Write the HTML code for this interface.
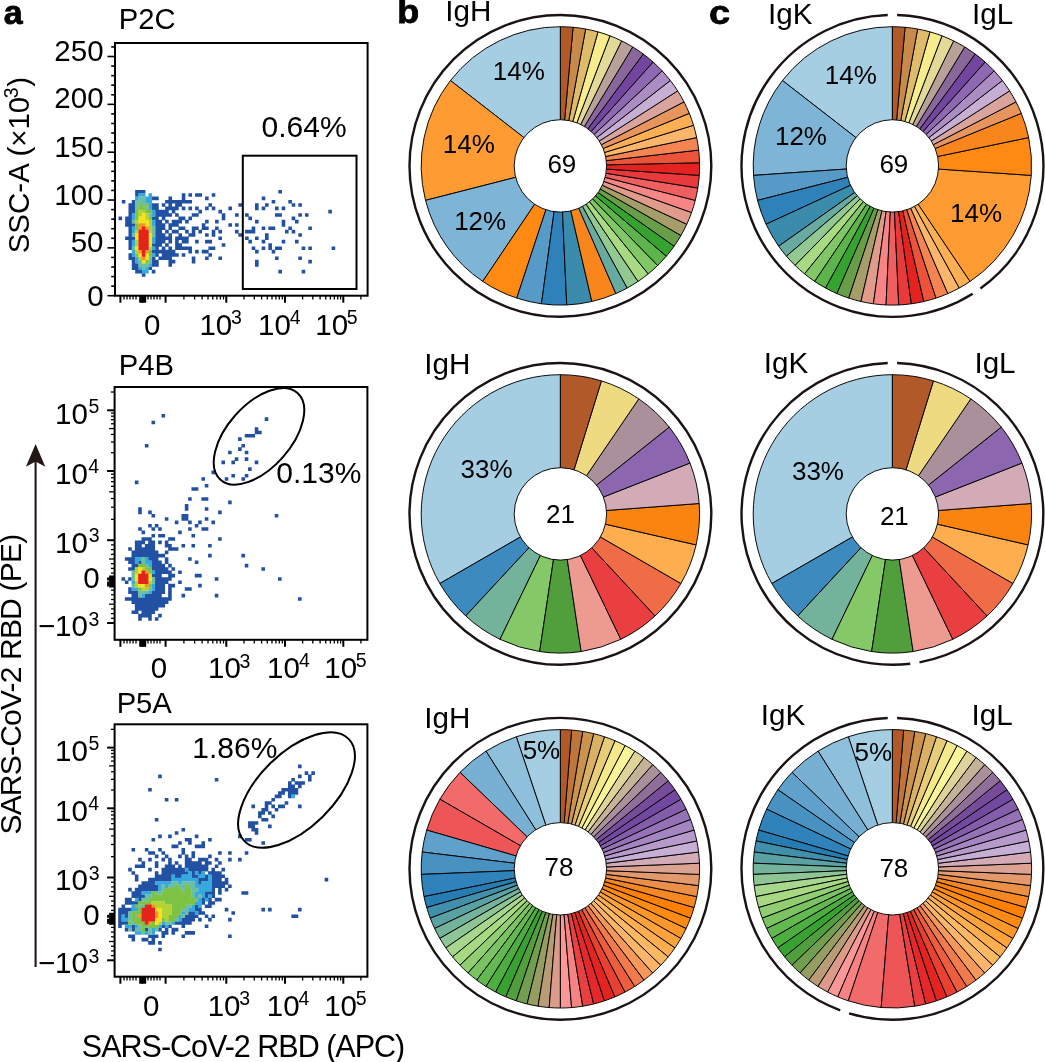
<!DOCTYPE html><html><head><meta charset="utf-8"><style>html,body{margin:0;padding:0;background:#fff;width:1045px;height:1062px;overflow:hidden}svg{display:block;will-change:transform}text{font-family:"Liberation Sans",sans-serif}</style></head><body><svg width="1045" height="1062" viewBox="0 0 1045 1062" font-family="Liberation Sans, sans-serif"><path d="M560.40,165.90L560.40,26.70A139.2,139.2 0 0 0 450.45,80.53Z" fill="#a6cee3" stroke="#000" stroke-width="0.95" stroke-linejoin="round"/>
<path d="M560.40,165.90L450.45,80.53A139.2,139.2 0 0 0 425.54,200.39Z" fill="#fe9c33" stroke="#000" stroke-width="0.95" stroke-linejoin="round"/>
<path d="M560.40,165.90L425.54,200.39A139.2,139.2 0 0 0 482.74,281.42Z" fill="#7eb4d5" stroke="#000" stroke-width="0.95" stroke-linejoin="round"/>
<path d="M560.40,165.90L482.74,281.42A139.2,139.2 0 0 0 516.78,298.09Z" fill="#ff8912" stroke="#000" stroke-width="0.95" stroke-linejoin="round"/>
<path d="M560.40,165.90L516.78,298.09A139.2,139.2 0 0 0 541.45,303.80Z" fill="#569bc7" stroke="#000" stroke-width="0.95" stroke-linejoin="round"/>
<path d="M560.40,165.90L541.45,303.80A139.2,139.2 0 0 0 566.74,304.96Z" fill="#2e81b9" stroke="#000" stroke-width="0.95" stroke-linejoin="round"/>
<path d="M560.40,165.90L566.74,304.96A139.2,139.2 0 0 0 591.82,301.51Z" fill="#3b8bac" stroke="#000" stroke-width="0.95" stroke-linejoin="round"/>
<path d="M560.40,165.90L591.82,301.51A139.2,139.2 0 0 0 615.86,293.58Z" fill="#f8861d" stroke="#000" stroke-width="0.95" stroke-linejoin="round"/>
<path d="M560.40,165.90L615.86,293.58A139.2,139.2 0 0 0 627.24,288.00Z" fill="#67aaa0" stroke="#000" stroke-width="0.95" stroke-linejoin="round"/>
<path d="M560.40,165.90L627.24,288.00A139.2,139.2 0 0 0 638.06,281.42Z" fill="#92c993" stroke="#000" stroke-width="0.95" stroke-linejoin="round"/>
<path d="M560.40,165.90L638.06,281.42A139.2,139.2 0 0 0 648.25,273.88Z" fill="#a8da82" stroke="#000" stroke-width="0.95" stroke-linejoin="round"/>
<path d="M560.40,165.90L648.25,273.88A139.2,139.2 0 0 0 657.70,265.44Z" fill="#82c766" stroke="#000" stroke-width="0.95" stroke-linejoin="round"/>
<path d="M560.40,165.90L657.70,265.44A139.2,139.2 0 0 0 666.35,256.18Z" fill="#5cb44a" stroke="#000" stroke-width="0.95" stroke-linejoin="round"/>
<path d="M560.40,165.90L666.35,256.18A139.2,139.2 0 0 0 674.12,246.17Z" fill="#36a22f" stroke="#000" stroke-width="0.95" stroke-linejoin="round"/>
<path d="M560.40,165.90L674.12,246.17A139.2,139.2 0 0 0 680.95,235.50Z" fill="#699e49" stroke="#000" stroke-width="0.95" stroke-linejoin="round"/>
<path d="M560.40,165.90L680.95,235.50A139.2,139.2 0 0 0 686.78,224.25Z" fill="#a59d6a" stroke="#000" stroke-width="0.95" stroke-linejoin="round"/>
<path d="M560.40,165.90L686.78,224.25A139.2,139.2 0 0 0 691.56,212.52Z" fill="#e09b8a" stroke="#000" stroke-width="0.95" stroke-linejoin="round"/>
<path d="M560.40,165.90L691.56,212.52A139.2,139.2 0 0 0 695.26,200.39Z" fill="#f78585" stroke="#000" stroke-width="0.95" stroke-linejoin="round"/>
<path d="M560.40,165.90L695.26,200.39A139.2,139.2 0 0 0 697.84,187.99Z" fill="#f05f60" stroke="#000" stroke-width="0.95" stroke-linejoin="round"/>
<path d="M560.40,165.90L697.84,187.99A139.2,139.2 0 0 0 699.28,175.40Z" fill="#e9393a" stroke="#000" stroke-width="0.95" stroke-linejoin="round"/>
<path d="M560.40,165.90L699.28,175.40A139.2,139.2 0 0 0 699.56,162.73Z" fill="#e42320" stroke="#000" stroke-width="0.95" stroke-linejoin="round"/>
<path d="M560.40,165.90L699.56,162.73A139.2,139.2 0 0 0 698.70,150.09Z" fill="#ec5439" stroke="#000" stroke-width="0.95" stroke-linejoin="round"/>
<path d="M560.40,165.90L698.70,150.09A139.2,139.2 0 0 0 696.69,137.58Z" fill="#f48552" stroke="#000" stroke-width="0.95" stroke-linejoin="round"/>
<path d="M560.40,165.90L696.69,137.58A139.2,139.2 0 0 0 693.55,125.30Z" fill="#fcb66b" stroke="#000" stroke-width="0.95" stroke-linejoin="round"/>
<path d="M560.40,165.90L693.55,125.30A139.2,139.2 0 0 0 689.31,113.36Z" fill="#fdaf54" stroke="#000" stroke-width="0.95" stroke-linejoin="round"/>
<path d="M560.40,165.90L689.31,113.36A139.2,139.2 0 0 0 683.99,101.86Z" fill="#e8955d" stroke="#000" stroke-width="0.95" stroke-linejoin="round"/>
<path d="M560.40,165.90L683.99,101.86A139.2,139.2 0 0 0 677.66,90.89Z" fill="#d8a49c" stroke="#000" stroke-width="0.95" stroke-linejoin="round"/>
<path d="M560.40,165.90L677.66,90.89A139.2,139.2 0 0 0 670.35,80.53Z" fill="#c7afd4" stroke="#000" stroke-width="0.95" stroke-linejoin="round"/>
<path d="M560.40,165.90L670.35,80.53A139.2,139.2 0 0 0 662.13,70.89Z" fill="#ab8cc3" stroke="#000" stroke-width="0.95" stroke-linejoin="round"/>
<path d="M560.40,165.90L662.13,70.89A139.2,139.2 0 0 0 653.07,62.03Z" fill="#8e69b1" stroke="#000" stroke-width="0.95" stroke-linejoin="round"/>
<path d="M560.40,165.90L653.07,62.03A139.2,139.2 0 0 0 643.24,54.03Z" fill="#72469f" stroke="#000" stroke-width="0.95" stroke-linejoin="round"/>
<path d="M560.40,165.90L643.24,54.03A139.2,139.2 0 0 0 632.73,46.96Z" fill="#8a679a" stroke="#000" stroke-width="0.95" stroke-linejoin="round"/>
<path d="M560.40,165.90L632.73,46.96A139.2,139.2 0 0 0 621.61,40.88Z" fill="#b7a199" stroke="#000" stroke-width="0.95" stroke-linejoin="round"/>
<path d="M560.40,165.90L621.61,40.88A139.2,139.2 0 0 0 609.99,35.83Z" fill="#e3da99" stroke="#000" stroke-width="0.95" stroke-linejoin="round"/>
<path d="M560.40,165.90L609.99,35.83A139.2,139.2 0 0 0 597.96,31.86Z" fill="#f7ed8d" stroke="#000" stroke-width="0.95" stroke-linejoin="round"/>
<path d="M560.40,165.90L597.96,31.86A139.2,139.2 0 0 0 585.61,29.00Z" fill="#dfbc6b" stroke="#000" stroke-width="0.95" stroke-linejoin="round"/>
<path d="M560.40,165.90L585.61,29.00A139.2,139.2 0 0 0 573.06,27.28Z" fill="#c88a4a" stroke="#000" stroke-width="0.95" stroke-linejoin="round"/>
<path d="M560.40,165.90L573.06,27.28A139.2,139.2 0 0 0 560.40,26.70Z" fill="#b15928" stroke="#000" stroke-width="0.95" stroke-linejoin="round"/>
<circle cx="560.4" cy="165.9" r="46.2" fill="#fff" stroke="#000" stroke-width="0.95"/>
<circle cx="560.4" cy="165.9" r="150.9" fill="none" stroke="#1a1311" stroke-width="2.4"/>
<path d="M892.40,165.90L892.40,26.70A139.2,139.2 0 0 0 782.45,80.53Z" fill="#a6cee3" stroke="#000" stroke-width="0.95" stroke-linejoin="round"/>
<path d="M892.40,165.90L782.45,80.53A139.2,139.2 0 0 0 753.52,175.40Z" fill="#7eb4d5" stroke="#000" stroke-width="0.95" stroke-linejoin="round"/>
<path d="M892.40,165.90L753.52,175.40A139.2,139.2 0 0 0 757.54,200.39Z" fill="#569bc7" stroke="#000" stroke-width="0.95" stroke-linejoin="round"/>
<path d="M892.40,165.90L757.54,200.39A139.2,139.2 0 0 0 766.02,224.25Z" fill="#2e81b9" stroke="#000" stroke-width="0.95" stroke-linejoin="round"/>
<path d="M892.40,165.90L766.02,224.25A139.2,139.2 0 0 0 778.68,246.17Z" fill="#3b8bac" stroke="#000" stroke-width="0.95" stroke-linejoin="round"/>
<path d="M892.40,165.90L778.68,246.17A139.2,139.2 0 0 0 786.45,256.18Z" fill="#67aaa0" stroke="#000" stroke-width="0.95" stroke-linejoin="round"/>
<path d="M892.40,165.90L786.45,256.18A139.2,139.2 0 0 0 795.10,265.44Z" fill="#92c993" stroke="#000" stroke-width="0.95" stroke-linejoin="round"/>
<path d="M892.40,165.90L795.10,265.44A139.2,139.2 0 0 0 804.55,273.88Z" fill="#a8da82" stroke="#000" stroke-width="0.95" stroke-linejoin="round"/>
<path d="M892.40,165.90L804.55,273.88A139.2,139.2 0 0 0 814.74,281.42Z" fill="#82c766" stroke="#000" stroke-width="0.95" stroke-linejoin="round"/>
<path d="M892.40,165.90L814.74,281.42A139.2,139.2 0 0 0 825.56,288.00Z" fill="#5cb44a" stroke="#000" stroke-width="0.95" stroke-linejoin="round"/>
<path d="M892.40,165.90L825.56,288.00A139.2,139.2 0 0 0 836.94,293.58Z" fill="#36a22f" stroke="#000" stroke-width="0.95" stroke-linejoin="round"/>
<path d="M892.40,165.90L836.94,293.58A139.2,139.2 0 0 0 848.78,298.09Z" fill="#699e49" stroke="#000" stroke-width="0.95" stroke-linejoin="round"/>
<path d="M892.40,165.90L848.78,298.09A139.2,139.2 0 0 0 860.98,301.51Z" fill="#a59d6a" stroke="#000" stroke-width="0.95" stroke-linejoin="round"/>
<path d="M892.40,165.90L860.98,301.51A139.2,139.2 0 0 0 873.45,303.80Z" fill="#e09b8a" stroke="#000" stroke-width="0.95" stroke-linejoin="round"/>
<path d="M892.40,165.90L873.45,303.80A139.2,139.2 0 0 0 886.06,304.96Z" fill="#f78585" stroke="#000" stroke-width="0.95" stroke-linejoin="round"/>
<path d="M892.40,165.90L886.06,304.96A139.2,139.2 0 0 0 898.74,304.96Z" fill="#f05f60" stroke="#000" stroke-width="0.95" stroke-linejoin="round"/>
<path d="M892.40,165.90L898.74,304.96A139.2,139.2 0 0 0 911.35,303.80Z" fill="#e9393a" stroke="#000" stroke-width="0.95" stroke-linejoin="round"/>
<path d="M892.40,165.90L911.35,303.80A139.2,139.2 0 0 0 923.82,301.51Z" fill="#e42320" stroke="#000" stroke-width="0.95" stroke-linejoin="round"/>
<path d="M892.40,165.90L923.82,301.51A139.2,139.2 0 0 0 936.02,298.09Z" fill="#ec5439" stroke="#000" stroke-width="0.95" stroke-linejoin="round"/>
<path d="M892.40,165.90L936.02,298.09A139.2,139.2 0 0 0 947.86,293.58Z" fill="#f48552" stroke="#000" stroke-width="0.95" stroke-linejoin="round"/>
<path d="M892.40,165.90L947.86,293.58A139.2,139.2 0 0 0 959.24,288.00Z" fill="#fcb66b" stroke="#000" stroke-width="0.95" stroke-linejoin="round"/>
<path d="M892.40,165.90L959.24,288.00A139.2,139.2 0 0 0 970.06,281.42Z" fill="#fdaf54" stroke="#000" stroke-width="0.95" stroke-linejoin="round"/>
<path d="M892.40,165.90L970.06,281.42A139.2,139.2 0 0 0 1031.28,175.40Z" fill="#fe9c33" stroke="#000" stroke-width="0.95" stroke-linejoin="round"/>
<path d="M892.40,165.90L1031.28,175.40A139.2,139.2 0 0 0 1028.69,137.58Z" fill="#ff8912" stroke="#000" stroke-width="0.95" stroke-linejoin="round"/>
<path d="M892.40,165.90L1028.69,137.58A139.2,139.2 0 0 0 1021.31,113.36Z" fill="#f8861d" stroke="#000" stroke-width="0.95" stroke-linejoin="round"/>
<path d="M892.40,165.90L1021.31,113.36A139.2,139.2 0 0 0 1015.99,101.86Z" fill="#e8955d" stroke="#000" stroke-width="0.95" stroke-linejoin="round"/>
<path d="M892.40,165.90L1015.99,101.86A139.2,139.2 0 0 0 1009.66,90.89Z" fill="#d8a49c" stroke="#000" stroke-width="0.95" stroke-linejoin="round"/>
<path d="M892.40,165.90L1009.66,90.89A139.2,139.2 0 0 0 1002.35,80.53Z" fill="#c7afd4" stroke="#000" stroke-width="0.95" stroke-linejoin="round"/>
<path d="M892.40,165.90L1002.35,80.53A139.2,139.2 0 0 0 994.13,70.89Z" fill="#ab8cc3" stroke="#000" stroke-width="0.95" stroke-linejoin="round"/>
<path d="M892.40,165.90L994.13,70.89A139.2,139.2 0 0 0 985.07,62.03Z" fill="#8e69b1" stroke="#000" stroke-width="0.95" stroke-linejoin="round"/>
<path d="M892.40,165.90L985.07,62.03A139.2,139.2 0 0 0 975.24,54.03Z" fill="#72469f" stroke="#000" stroke-width="0.95" stroke-linejoin="round"/>
<path d="M892.40,165.90L975.24,54.03A139.2,139.2 0 0 0 964.73,46.96Z" fill="#8a679a" stroke="#000" stroke-width="0.95" stroke-linejoin="round"/>
<path d="M892.40,165.90L964.73,46.96A139.2,139.2 0 0 0 953.61,40.88Z" fill="#b7a199" stroke="#000" stroke-width="0.95" stroke-linejoin="round"/>
<path d="M892.40,165.90L953.61,40.88A139.2,139.2 0 0 0 941.99,35.83Z" fill="#e3da99" stroke="#000" stroke-width="0.95" stroke-linejoin="round"/>
<path d="M892.40,165.90L941.99,35.83A139.2,139.2 0 0 0 929.96,31.86Z" fill="#f7ed8d" stroke="#000" stroke-width="0.95" stroke-linejoin="round"/>
<path d="M892.40,165.90L929.96,31.86A139.2,139.2 0 0 0 917.61,29.00Z" fill="#dfbc6b" stroke="#000" stroke-width="0.95" stroke-linejoin="round"/>
<path d="M892.40,165.90L917.61,29.00A139.2,139.2 0 0 0 905.06,27.28Z" fill="#c88a4a" stroke="#000" stroke-width="0.95" stroke-linejoin="round"/>
<path d="M892.40,165.90L905.06,27.28A139.2,139.2 0 0 0 892.40,26.70Z" fill="#b15928" stroke="#000" stroke-width="0.95" stroke-linejoin="round"/>
<circle cx="892.4" cy="165.9" r="46.2" fill="#fff" stroke="#000" stroke-width="0.95"/>
<path d="M887.74,15.07A150.9,150.9 0 1 0 972.68,293.67" fill="none" stroke="#1a1311" stroke-width="2.4"/>
<path d="M980.42,288.47A150.9,150.9 0 0 0 897.06,15.07" fill="none" stroke="#1a1311" stroke-width="2.4"/>
<path d="M560.40,513.90L560.40,374.70A139.2,139.2 0 0 0 439.85,583.50Z" fill="#a6cee3" stroke="#000" stroke-width="0.95" stroke-linejoin="round"/>
<path d="M560.40,513.90L439.85,583.50A139.2,139.2 0 0 0 465.72,615.94Z" fill="#3c8abe" stroke="#000" stroke-width="0.95" stroke-linejoin="round"/>
<path d="M560.40,513.90L465.72,615.94A139.2,139.2 0 0 0 500.00,639.31Z" fill="#73b39c" stroke="#000" stroke-width="0.95" stroke-linejoin="round"/>
<path d="M560.40,513.90L500.00,639.31A139.2,139.2 0 0 0 539.65,651.55Z" fill="#85c868" stroke="#000" stroke-width="0.95" stroke-linejoin="round"/>
<path d="M560.40,513.90L539.65,651.55A139.2,139.2 0 0 0 581.15,651.55Z" fill="#509f3c" stroke="#000" stroke-width="0.95" stroke-linejoin="round"/>
<path d="M560.40,513.90L581.15,651.55A139.2,139.2 0 0 0 620.80,639.31Z" fill="#ed9a91" stroke="#000" stroke-width="0.95" stroke-linejoin="round"/>
<path d="M560.40,513.90L620.80,639.31A139.2,139.2 0 0 0 655.08,615.94Z" fill="#ea3f40" stroke="#000" stroke-width="0.95" stroke-linejoin="round"/>
<path d="M560.40,513.90L655.08,615.94A139.2,139.2 0 0 0 680.95,583.50Z" fill="#f06c46" stroke="#000" stroke-width="0.95" stroke-linejoin="round"/>
<path d="M560.40,513.90L680.95,583.50A139.2,139.2 0 0 0 696.11,544.87Z" fill="#fead4f" stroke="#000" stroke-width="0.95" stroke-linejoin="round"/>
<path d="M560.40,513.90L696.11,544.87A139.2,139.2 0 0 0 699.21,503.50Z" fill="#fb830f" stroke="#000" stroke-width="0.95" stroke-linejoin="round"/>
<path d="M560.40,513.90L699.21,503.50A139.2,139.2 0 0 0 689.98,463.04Z" fill="#d2abb7" stroke="#000" stroke-width="0.95" stroke-linejoin="round"/>
<path d="M560.40,513.90L689.98,463.04A139.2,139.2 0 0 0 669.23,427.11Z" fill="#8c67af" stroke="#000" stroke-width="0.95" stroke-linejoin="round"/>
<path d="M560.40,513.90L669.23,427.11A139.2,139.2 0 0 0 638.81,398.89Z" fill="#aa909a" stroke="#000" stroke-width="0.95" stroke-linejoin="round"/>
<path d="M560.40,513.90L638.81,398.89A139.2,139.2 0 0 0 601.43,380.88Z" fill="#eedb81" stroke="#000" stroke-width="0.95" stroke-linejoin="round"/>
<path d="M560.40,513.90L601.43,380.88A139.2,139.2 0 0 0 560.40,374.70Z" fill="#b15928" stroke="#000" stroke-width="0.95" stroke-linejoin="round"/>
<circle cx="560.4" cy="513.9" r="46.2" fill="#fff" stroke="#000" stroke-width="0.95"/>
<circle cx="560.4" cy="513.9" r="150.9" fill="none" stroke="#1a1311" stroke-width="2.4"/>
<path d="M892.40,513.90L892.40,374.70A139.2,139.2 0 0 0 771.85,583.50Z" fill="#a6cee3" stroke="#000" stroke-width="0.95" stroke-linejoin="round"/>
<path d="M892.40,513.90L771.85,583.50A139.2,139.2 0 0 0 797.72,615.94Z" fill="#3c8abe" stroke="#000" stroke-width="0.95" stroke-linejoin="round"/>
<path d="M892.40,513.90L797.72,615.94A139.2,139.2 0 0 0 832.00,639.31Z" fill="#73b39c" stroke="#000" stroke-width="0.95" stroke-linejoin="round"/>
<path d="M892.40,513.90L832.00,639.31A139.2,139.2 0 0 0 871.65,651.55Z" fill="#85c868" stroke="#000" stroke-width="0.95" stroke-linejoin="round"/>
<path d="M892.40,513.90L871.65,651.55A139.2,139.2 0 0 0 913.15,651.55Z" fill="#509f3c" stroke="#000" stroke-width="0.95" stroke-linejoin="round"/>
<path d="M892.40,513.90L913.15,651.55A139.2,139.2 0 0 0 952.80,639.31Z" fill="#ed9a91" stroke="#000" stroke-width="0.95" stroke-linejoin="round"/>
<path d="M892.40,513.90L952.80,639.31A139.2,139.2 0 0 0 987.08,615.94Z" fill="#ea3f40" stroke="#000" stroke-width="0.95" stroke-linejoin="round"/>
<path d="M892.40,513.90L987.08,615.94A139.2,139.2 0 0 0 1012.95,583.50Z" fill="#f06c46" stroke="#000" stroke-width="0.95" stroke-linejoin="round"/>
<path d="M892.40,513.90L1012.95,583.50A139.2,139.2 0 0 0 1028.11,544.87Z" fill="#fead4f" stroke="#000" stroke-width="0.95" stroke-linejoin="round"/>
<path d="M892.40,513.90L1028.11,544.87A139.2,139.2 0 0 0 1031.21,503.50Z" fill="#fb830f" stroke="#000" stroke-width="0.95" stroke-linejoin="round"/>
<path d="M892.40,513.90L1031.21,503.50A139.2,139.2 0 0 0 1021.98,463.04Z" fill="#d2abb7" stroke="#000" stroke-width="0.95" stroke-linejoin="round"/>
<path d="M892.40,513.90L1021.98,463.04A139.2,139.2 0 0 0 1001.23,427.11Z" fill="#8c67af" stroke="#000" stroke-width="0.95" stroke-linejoin="round"/>
<path d="M892.40,513.90L1001.23,427.11A139.2,139.2 0 0 0 970.81,398.89Z" fill="#aa909a" stroke="#000" stroke-width="0.95" stroke-linejoin="round"/>
<path d="M892.40,513.90L970.81,398.89A139.2,139.2 0 0 0 933.43,380.88Z" fill="#eedb81" stroke="#000" stroke-width="0.95" stroke-linejoin="round"/>
<path d="M892.40,513.90L933.43,380.88A139.2,139.2 0 0 0 892.40,374.70Z" fill="#b15928" stroke="#000" stroke-width="0.95" stroke-linejoin="round"/>
<circle cx="892.4" cy="513.9" r="46.2" fill="#fff" stroke="#000" stroke-width="0.95"/>
<path d="M887.74,363.07A150.9,150.9 0 1 0 910.27,663.74" fill="none" stroke="#1a1311" stroke-width="2.4"/>
<path d="M919.49,662.35A150.9,150.9 0 0 0 897.06,363.07" fill="none" stroke="#1a1311" stroke-width="2.4"/>
<path d="M560.40,868.80L560.40,729.60A139.2,139.2 0 0 0 516.32,736.76Z" fill="#a6cee3" stroke="#000" stroke-width="0.95" stroke-linejoin="round"/>
<path d="M560.40,868.80L516.32,736.76A139.2,139.2 0 0 0 486.00,751.15Z" fill="#8ebfdb" stroke="#000" stroke-width="0.95" stroke-linejoin="round"/>
<path d="M560.40,868.80L486.00,751.15A139.2,139.2 0 0 0 460.01,772.37Z" fill="#77b0d3" stroke="#000" stroke-width="0.95" stroke-linejoin="round"/>
<path d="M560.40,868.80L460.01,772.37A139.2,139.2 0 0 0 439.85,799.20Z" fill="#f26b6b" stroke="#000" stroke-width="0.95" stroke-linejoin="round"/>
<path d="M560.40,868.80L439.85,799.20A139.2,139.2 0 0 0 426.70,830.07Z" fill="#ee5556" stroke="#000" stroke-width="0.95" stroke-linejoin="round"/>
<path d="M560.40,868.80L426.70,830.07A139.2,139.2 0 0 0 422.21,852.02Z" fill="#5fa1ca" stroke="#000" stroke-width="0.95" stroke-linejoin="round"/>
<path d="M560.40,868.80L422.21,852.02A139.2,139.2 0 0 0 421.31,874.41Z" fill="#4892c2" stroke="#000" stroke-width="0.95" stroke-linejoin="round"/>
<path d="M560.40,868.80L421.31,874.41A139.2,139.2 0 0 0 424.01,896.64Z" fill="#3083ba" stroke="#000" stroke-width="0.95" stroke-linejoin="round"/>
<path d="M560.40,868.80L424.01,896.64A139.2,139.2 0 0 0 426.70,907.53Z" fill="#267db2" stroke="#000" stroke-width="0.95" stroke-linejoin="round"/>
<path d="M560.40,868.80L426.70,907.53A139.2,139.2 0 0 0 430.25,918.16Z" fill="#408fab" stroke="#000" stroke-width="0.95" stroke-linejoin="round"/>
<path d="M560.40,868.80L430.25,918.16A139.2,139.2 0 0 0 434.64,928.47Z" fill="#59a1a3" stroke="#000" stroke-width="0.95" stroke-linejoin="round"/>
<path d="M560.40,868.80L434.64,928.47A139.2,139.2 0 0 0 439.85,938.40Z" fill="#73b39c" stroke="#000" stroke-width="0.95" stroke-linejoin="round"/>
<path d="M560.40,868.80L439.85,938.40A139.2,139.2 0 0 0 445.84,947.87Z" fill="#8dc595" stroke="#000" stroke-width="0.95" stroke-linejoin="round"/>
<path d="M560.40,868.80L445.84,947.87A139.2,139.2 0 0 0 452.57,956.84Z" fill="#a6d78d" stroke="#000" stroke-width="0.95" stroke-linejoin="round"/>
<path d="M560.40,868.80L452.57,956.84A139.2,139.2 0 0 0 460.01,965.23Z" fill="#a6d981" stroke="#000" stroke-width="0.95" stroke-linejoin="round"/>
<path d="M560.40,868.80L460.01,965.23A139.2,139.2 0 0 0 468.09,972.99Z" fill="#90ce71" stroke="#000" stroke-width="0.95" stroke-linejoin="round"/>
<path d="M560.40,868.80L468.09,972.99A139.2,139.2 0 0 0 476.78,980.08Z" fill="#7ac360" stroke="#000" stroke-width="0.95" stroke-linejoin="round"/>
<path d="M560.40,868.80L476.78,980.08A139.2,139.2 0 0 0 486.00,986.45Z" fill="#63b850" stroke="#000" stroke-width="0.95" stroke-linejoin="round"/>
<path d="M560.40,868.80L486.00,986.45A139.2,139.2 0 0 0 495.71,992.06Z" fill="#4dad3f" stroke="#000" stroke-width="0.95" stroke-linejoin="round"/>
<path d="M560.40,868.80L495.71,992.06A139.2,139.2 0 0 0 505.84,996.86Z" fill="#37a22f" stroke="#000" stroke-width="0.95" stroke-linejoin="round"/>
<path d="M560.40,868.80L505.84,996.86A139.2,139.2 0 0 0 516.32,1000.84Z" fill="#509f3c" stroke="#000" stroke-width="0.95" stroke-linejoin="round"/>
<path d="M560.40,868.80L516.32,1000.84A139.2,139.2 0 0 0 527.09,1003.96Z" fill="#729e4f" stroke="#000" stroke-width="0.95" stroke-linejoin="round"/>
<path d="M560.40,868.80L527.09,1003.96A139.2,139.2 0 0 0 538.07,1006.20Z" fill="#959d62" stroke="#000" stroke-width="0.95" stroke-linejoin="round"/>
<path d="M560.40,868.80L538.07,1006.20A139.2,139.2 0 0 0 549.20,1007.55Z" fill="#b89c75" stroke="#000" stroke-width="0.95" stroke-linejoin="round"/>
<path d="M560.40,868.80L549.20,1007.55A139.2,139.2 0 0 0 560.40,1008.00Z" fill="#db9b88" stroke="#000" stroke-width="0.95" stroke-linejoin="round"/>
<path d="M560.40,868.80L560.40,1008.00A139.2,139.2 0 0 0 571.60,1007.55Z" fill="#fb9897" stroke="#000" stroke-width="0.95" stroke-linejoin="round"/>
<path d="M560.40,868.80L571.60,1007.55A139.2,139.2 0 0 0 582.73,1006.20Z" fill="#f68281" stroke="#000" stroke-width="0.95" stroke-linejoin="round"/>
<path d="M560.40,868.80L582.73,1006.20A139.2,139.2 0 0 0 593.71,1003.96Z" fill="#ea3f40" stroke="#000" stroke-width="0.95" stroke-linejoin="round"/>
<path d="M560.40,868.80L593.71,1003.96A139.2,139.2 0 0 0 604.48,1000.84Z" fill="#e6282a" stroke="#000" stroke-width="0.95" stroke-linejoin="round"/>
<path d="M560.40,868.80L604.48,1000.84A139.2,139.2 0 0 0 614.96,996.86Z" fill="#e52421" stroke="#000" stroke-width="0.95" stroke-linejoin="round"/>
<path d="M560.40,868.80L614.96,996.86A139.2,139.2 0 0 0 625.09,992.06Z" fill="#e94130" stroke="#000" stroke-width="0.95" stroke-linejoin="round"/>
<path d="M560.40,868.80L625.09,992.06A139.2,139.2 0 0 0 634.80,986.45Z" fill="#ee5e3e" stroke="#000" stroke-width="0.95" stroke-linejoin="round"/>
<path d="M560.40,868.80L634.80,986.45A139.2,139.2 0 0 0 644.02,980.08Z" fill="#f27b4d" stroke="#000" stroke-width="0.95" stroke-linejoin="round"/>
<path d="M560.40,868.80L644.02,980.08A139.2,139.2 0 0 0 652.71,972.99Z" fill="#f7985b" stroke="#000" stroke-width="0.95" stroke-linejoin="round"/>
<path d="M560.40,868.80L652.71,972.99A139.2,139.2 0 0 0 660.79,965.23Z" fill="#fbb56a" stroke="#000" stroke-width="0.95" stroke-linejoin="round"/>
<path d="M560.40,868.80L660.79,965.23A139.2,139.2 0 0 0 668.23,956.84Z" fill="#fdb863" stroke="#000" stroke-width="0.95" stroke-linejoin="round"/>
<path d="M560.40,868.80L668.23,956.84A139.2,139.2 0 0 0 674.96,947.87Z" fill="#fead4f" stroke="#000" stroke-width="0.95" stroke-linejoin="round"/>
<path d="M560.40,868.80L674.96,947.87A139.2,139.2 0 0 0 680.95,938.40Z" fill="#fea23c" stroke="#000" stroke-width="0.95" stroke-linejoin="round"/>
<path d="M560.40,868.80L680.95,938.40A139.2,139.2 0 0 0 686.16,928.47Z" fill="#fe9629" stroke="#000" stroke-width="0.95" stroke-linejoin="round"/>
<path d="M560.40,868.80L686.16,928.47A139.2,139.2 0 0 0 690.55,918.16Z" fill="#ff8b15" stroke="#000" stroke-width="0.95" stroke-linejoin="round"/>
<path d="M560.40,868.80L690.55,918.16A139.2,139.2 0 0 0 694.10,907.53Z" fill="#ff8002" stroke="#000" stroke-width="0.95" stroke-linejoin="round"/>
<path d="M560.40,868.80L694.10,907.53A139.2,139.2 0 0 0 696.79,896.64Z" fill="#f78722" stroke="#000" stroke-width="0.95" stroke-linejoin="round"/>
<path d="M560.40,868.80L696.79,896.64A139.2,139.2 0 0 0 698.59,885.58Z" fill="#ed9047" stroke="#000" stroke-width="0.95" stroke-linejoin="round"/>
<path d="M560.40,868.80L698.59,885.58A139.2,139.2 0 0 0 699.49,874.41Z" fill="#e4996d" stroke="#000" stroke-width="0.95" stroke-linejoin="round"/>
<path d="M560.40,868.80L699.49,874.41A139.2,139.2 0 0 0 699.49,863.19Z" fill="#dba292" stroke="#000" stroke-width="0.95" stroke-linejoin="round"/>
<path d="M560.40,868.80L699.49,863.19A139.2,139.2 0 0 0 698.59,852.02Z" fill="#d2abb7" stroke="#000" stroke-width="0.95" stroke-linejoin="round"/>
<path d="M560.40,868.80L698.59,852.02A139.2,139.2 0 0 0 696.79,840.96Z" fill="#c7aed4" stroke="#000" stroke-width="0.95" stroke-linejoin="round"/>
<path d="M560.40,868.80L696.79,840.96A139.2,139.2 0 0 0 694.10,830.07Z" fill="#b69aca" stroke="#000" stroke-width="0.95" stroke-linejoin="round"/>
<path d="M560.40,868.80L694.10,830.07A139.2,139.2 0 0 0 690.55,819.44Z" fill="#a585bf" stroke="#000" stroke-width="0.95" stroke-linejoin="round"/>
<path d="M560.40,868.80L690.55,819.44A139.2,139.2 0 0 0 686.16,809.13Z" fill="#9571b5" stroke="#000" stroke-width="0.95" stroke-linejoin="round"/>
<path d="M560.40,868.80L686.16,809.13A139.2,139.2 0 0 0 680.95,799.20Z" fill="#845daa" stroke="#000" stroke-width="0.95" stroke-linejoin="round"/>
<path d="M560.40,868.80L680.95,799.20A139.2,139.2 0 0 0 674.96,789.73Z" fill="#7348a0" stroke="#000" stroke-width="0.95" stroke-linejoin="round"/>
<path d="M560.40,868.80L674.96,789.73A139.2,139.2 0 0 0 668.23,780.76Z" fill="#764c9a" stroke="#000" stroke-width="0.95" stroke-linejoin="round"/>
<path d="M560.40,868.80L668.23,780.76A139.2,139.2 0 0 0 660.79,772.37Z" fill="#906e9a" stroke="#000" stroke-width="0.95" stroke-linejoin="round"/>
<path d="M560.40,868.80L660.79,772.37A139.2,139.2 0 0 0 652.71,764.61Z" fill="#aa909a" stroke="#000" stroke-width="0.95" stroke-linejoin="round"/>
<path d="M560.40,868.80L652.71,764.61A139.2,139.2 0 0 0 644.02,757.52Z" fill="#c4b299" stroke="#000" stroke-width="0.95" stroke-linejoin="round"/>
<path d="M560.40,868.80L644.02,757.52A139.2,139.2 0 0 0 634.80,751.15Z" fill="#ded499" stroke="#000" stroke-width="0.95" stroke-linejoin="round"/>
<path d="M560.40,868.80L634.80,751.15A139.2,139.2 0 0 0 625.09,745.54Z" fill="#f8f699" stroke="#000" stroke-width="0.95" stroke-linejoin="round"/>
<path d="M560.40,868.80L625.09,745.54A139.2,139.2 0 0 0 614.96,740.74Z" fill="#f5ea8b" stroke="#000" stroke-width="0.95" stroke-linejoin="round"/>
<path d="M560.40,868.80L614.96,740.74A139.2,139.2 0 0 0 604.48,736.76Z" fill="#e7cd77" stroke="#000" stroke-width="0.95" stroke-linejoin="round"/>
<path d="M560.40,868.80L604.48,736.76A139.2,139.2 0 0 0 593.71,733.64Z" fill="#dab063" stroke="#000" stroke-width="0.95" stroke-linejoin="round"/>
<path d="M560.40,868.80L593.71,733.64A139.2,139.2 0 0 0 582.73,731.40Z" fill="#cc934f" stroke="#000" stroke-width="0.95" stroke-linejoin="round"/>
<path d="M560.40,868.80L582.73,731.40A139.2,139.2 0 0 0 571.60,730.05Z" fill="#bf763c" stroke="#000" stroke-width="0.95" stroke-linejoin="round"/>
<path d="M560.40,868.80L571.60,730.05A139.2,139.2 0 0 0 560.40,729.60Z" fill="#b15928" stroke="#000" stroke-width="0.95" stroke-linejoin="round"/>
<circle cx="560.4" cy="868.8" r="46.2" fill="#fff" stroke="#000" stroke-width="0.95"/>
<circle cx="560.4" cy="868.8" r="150.9" fill="none" stroke="#1a1311" stroke-width="2.4"/>
<path d="M892.40,868.80L892.40,729.60A139.2,139.2 0 0 0 848.32,736.76Z" fill="#a6cee3" stroke="#000" stroke-width="0.95" stroke-linejoin="round"/>
<path d="M892.40,868.80L848.32,736.76A139.2,139.2 0 0 0 818.00,751.15Z" fill="#8ebfdb" stroke="#000" stroke-width="0.95" stroke-linejoin="round"/>
<path d="M892.40,868.80L818.00,751.15A139.2,139.2 0 0 0 792.01,772.37Z" fill="#77b0d3" stroke="#000" stroke-width="0.95" stroke-linejoin="round"/>
<path d="M892.40,868.80L792.01,772.37A139.2,139.2 0 0 0 777.84,789.73Z" fill="#5fa1ca" stroke="#000" stroke-width="0.95" stroke-linejoin="round"/>
<path d="M892.40,868.80L777.84,789.73A139.2,139.2 0 0 0 766.64,809.13Z" fill="#4892c2" stroke="#000" stroke-width="0.95" stroke-linejoin="round"/>
<path d="M892.40,868.80L766.64,809.13A139.2,139.2 0 0 0 758.70,830.07Z" fill="#3083ba" stroke="#000" stroke-width="0.95" stroke-linejoin="round"/>
<path d="M892.40,868.80L758.70,830.07A139.2,139.2 0 0 0 756.01,840.96Z" fill="#267db2" stroke="#000" stroke-width="0.95" stroke-linejoin="round"/>
<path d="M892.40,868.80L756.01,840.96A139.2,139.2 0 0 0 754.21,852.02Z" fill="#408fab" stroke="#000" stroke-width="0.95" stroke-linejoin="round"/>
<path d="M892.40,868.80L754.21,852.02A139.2,139.2 0 0 0 753.31,863.19Z" fill="#59a1a3" stroke="#000" stroke-width="0.95" stroke-linejoin="round"/>
<path d="M892.40,868.80L753.31,863.19A139.2,139.2 0 0 0 753.31,874.41Z" fill="#73b39c" stroke="#000" stroke-width="0.95" stroke-linejoin="round"/>
<path d="M892.40,868.80L753.31,874.41A139.2,139.2 0 0 0 754.21,885.58Z" fill="#8dc595" stroke="#000" stroke-width="0.95" stroke-linejoin="round"/>
<path d="M892.40,868.80L754.21,885.58A139.2,139.2 0 0 0 756.01,896.64Z" fill="#a6d78d" stroke="#000" stroke-width="0.95" stroke-linejoin="round"/>
<path d="M892.40,868.80L756.01,896.64A139.2,139.2 0 0 0 758.70,907.53Z" fill="#a6d981" stroke="#000" stroke-width="0.95" stroke-linejoin="round"/>
<path d="M892.40,868.80L758.70,907.53A139.2,139.2 0 0 0 762.25,918.16Z" fill="#90ce71" stroke="#000" stroke-width="0.95" stroke-linejoin="round"/>
<path d="M892.40,868.80L762.25,918.16A139.2,139.2 0 0 0 766.64,928.47Z" fill="#7ac360" stroke="#000" stroke-width="0.95" stroke-linejoin="round"/>
<path d="M892.40,868.80L766.64,928.47A139.2,139.2 0 0 0 771.85,938.40Z" fill="#63b850" stroke="#000" stroke-width="0.95" stroke-linejoin="round"/>
<path d="M892.40,868.80L771.85,938.40A139.2,139.2 0 0 0 777.84,947.87Z" fill="#4dad3f" stroke="#000" stroke-width="0.95" stroke-linejoin="round"/>
<path d="M892.40,868.80L777.84,947.87A139.2,139.2 0 0 0 784.57,956.84Z" fill="#37a22f" stroke="#000" stroke-width="0.95" stroke-linejoin="round"/>
<path d="M892.40,868.80L784.57,956.84A139.2,139.2 0 0 0 792.01,965.23Z" fill="#509f3c" stroke="#000" stroke-width="0.95" stroke-linejoin="round"/>
<path d="M892.40,868.80L792.01,965.23A139.2,139.2 0 0 0 800.09,972.99Z" fill="#729e4f" stroke="#000" stroke-width="0.95" stroke-linejoin="round"/>
<path d="M892.40,868.80L800.09,972.99A139.2,139.2 0 0 0 808.78,980.08Z" fill="#959d62" stroke="#000" stroke-width="0.95" stroke-linejoin="round"/>
<path d="M892.40,868.80L808.78,980.08A139.2,139.2 0 0 0 818.00,986.45Z" fill="#b89c75" stroke="#000" stroke-width="0.95" stroke-linejoin="round"/>
<path d="M892.40,868.80L818.00,986.45A139.2,139.2 0 0 0 827.71,992.06Z" fill="#db9b88" stroke="#000" stroke-width="0.95" stroke-linejoin="round"/>
<path d="M892.40,868.80L827.71,992.06A139.2,139.2 0 0 0 837.84,996.86Z" fill="#fb9897" stroke="#000" stroke-width="0.95" stroke-linejoin="round"/>
<path d="M892.40,868.80L837.84,996.86A139.2,139.2 0 0 0 848.32,1000.84Z" fill="#f68281" stroke="#000" stroke-width="0.95" stroke-linejoin="round"/>
<path d="M892.40,868.80L848.32,1000.84A139.2,139.2 0 0 0 881.20,1007.55Z" fill="#f26b6b" stroke="#000" stroke-width="0.95" stroke-linejoin="round"/>
<path d="M892.40,868.80L881.20,1007.55A139.2,139.2 0 0 0 914.73,1006.20Z" fill="#ee5556" stroke="#000" stroke-width="0.95" stroke-linejoin="round"/>
<path d="M892.40,868.80L914.73,1006.20A139.2,139.2 0 0 0 925.71,1003.96Z" fill="#ea3f40" stroke="#000" stroke-width="0.95" stroke-linejoin="round"/>
<path d="M892.40,868.80L925.71,1003.96A139.2,139.2 0 0 0 936.48,1000.84Z" fill="#e6282a" stroke="#000" stroke-width="0.95" stroke-linejoin="round"/>
<path d="M892.40,868.80L936.48,1000.84A139.2,139.2 0 0 0 946.96,996.86Z" fill="#e52421" stroke="#000" stroke-width="0.95" stroke-linejoin="round"/>
<path d="M892.40,868.80L946.96,996.86A139.2,139.2 0 0 0 957.09,992.06Z" fill="#e94130" stroke="#000" stroke-width="0.95" stroke-linejoin="round"/>
<path d="M892.40,868.80L957.09,992.06A139.2,139.2 0 0 0 966.80,986.45Z" fill="#ee5e3e" stroke="#000" stroke-width="0.95" stroke-linejoin="round"/>
<path d="M892.40,868.80L966.80,986.45A139.2,139.2 0 0 0 976.02,980.08Z" fill="#f27b4d" stroke="#000" stroke-width="0.95" stroke-linejoin="round"/>
<path d="M892.40,868.80L976.02,980.08A139.2,139.2 0 0 0 984.71,972.99Z" fill="#f7985b" stroke="#000" stroke-width="0.95" stroke-linejoin="round"/>
<path d="M892.40,868.80L984.71,972.99A139.2,139.2 0 0 0 992.79,965.23Z" fill="#fbb56a" stroke="#000" stroke-width="0.95" stroke-linejoin="round"/>
<path d="M892.40,868.80L992.79,965.23A139.2,139.2 0 0 0 1000.23,956.84Z" fill="#fdb863" stroke="#000" stroke-width="0.95" stroke-linejoin="round"/>
<path d="M892.40,868.80L1000.23,956.84A139.2,139.2 0 0 0 1006.96,947.87Z" fill="#fead4f" stroke="#000" stroke-width="0.95" stroke-linejoin="round"/>
<path d="M892.40,868.80L1006.96,947.87A139.2,139.2 0 0 0 1012.95,938.40Z" fill="#fea23c" stroke="#000" stroke-width="0.95" stroke-linejoin="round"/>
<path d="M892.40,868.80L1012.95,938.40A139.2,139.2 0 0 0 1018.16,928.47Z" fill="#fe9629" stroke="#000" stroke-width="0.95" stroke-linejoin="round"/>
<path d="M892.40,868.80L1018.16,928.47A139.2,139.2 0 0 0 1022.55,918.16Z" fill="#ff8b15" stroke="#000" stroke-width="0.95" stroke-linejoin="round"/>
<path d="M892.40,868.80L1022.55,918.16A139.2,139.2 0 0 0 1026.10,907.53Z" fill="#ff8002" stroke="#000" stroke-width="0.95" stroke-linejoin="round"/>
<path d="M892.40,868.80L1026.10,907.53A139.2,139.2 0 0 0 1028.79,896.64Z" fill="#f78722" stroke="#000" stroke-width="0.95" stroke-linejoin="round"/>
<path d="M892.40,868.80L1028.79,896.64A139.2,139.2 0 0 0 1030.59,885.58Z" fill="#ed9047" stroke="#000" stroke-width="0.95" stroke-linejoin="round"/>
<path d="M892.40,868.80L1030.59,885.58A139.2,139.2 0 0 0 1031.49,874.41Z" fill="#e4996d" stroke="#000" stroke-width="0.95" stroke-linejoin="round"/>
<path d="M892.40,868.80L1031.49,874.41A139.2,139.2 0 0 0 1031.49,863.19Z" fill="#dba292" stroke="#000" stroke-width="0.95" stroke-linejoin="round"/>
<path d="M892.40,868.80L1031.49,863.19A139.2,139.2 0 0 0 1030.59,852.02Z" fill="#d2abb7" stroke="#000" stroke-width="0.95" stroke-linejoin="round"/>
<path d="M892.40,868.80L1030.59,852.02A139.2,139.2 0 0 0 1028.79,840.96Z" fill="#c7aed4" stroke="#000" stroke-width="0.95" stroke-linejoin="round"/>
<path d="M892.40,868.80L1028.79,840.96A139.2,139.2 0 0 0 1026.10,830.07Z" fill="#b69aca" stroke="#000" stroke-width="0.95" stroke-linejoin="round"/>
<path d="M892.40,868.80L1026.10,830.07A139.2,139.2 0 0 0 1022.55,819.44Z" fill="#a585bf" stroke="#000" stroke-width="0.95" stroke-linejoin="round"/>
<path d="M892.40,868.80L1022.55,819.44A139.2,139.2 0 0 0 1018.16,809.13Z" fill="#9571b5" stroke="#000" stroke-width="0.95" stroke-linejoin="round"/>
<path d="M892.40,868.80L1018.16,809.13A139.2,139.2 0 0 0 1012.95,799.20Z" fill="#845daa" stroke="#000" stroke-width="0.95" stroke-linejoin="round"/>
<path d="M892.40,868.80L1012.95,799.20A139.2,139.2 0 0 0 1006.96,789.73Z" fill="#7348a0" stroke="#000" stroke-width="0.95" stroke-linejoin="round"/>
<path d="M892.40,868.80L1006.96,789.73A139.2,139.2 0 0 0 1000.23,780.76Z" fill="#764c9a" stroke="#000" stroke-width="0.95" stroke-linejoin="round"/>
<path d="M892.40,868.80L1000.23,780.76A139.2,139.2 0 0 0 992.79,772.37Z" fill="#906e9a" stroke="#000" stroke-width="0.95" stroke-linejoin="round"/>
<path d="M892.40,868.80L992.79,772.37A139.2,139.2 0 0 0 984.71,764.61Z" fill="#aa909a" stroke="#000" stroke-width="0.95" stroke-linejoin="round"/>
<path d="M892.40,868.80L984.71,764.61A139.2,139.2 0 0 0 976.02,757.52Z" fill="#c4b299" stroke="#000" stroke-width="0.95" stroke-linejoin="round"/>
<path d="M892.40,868.80L976.02,757.52A139.2,139.2 0 0 0 966.80,751.15Z" fill="#ded499" stroke="#000" stroke-width="0.95" stroke-linejoin="round"/>
<path d="M892.40,868.80L966.80,751.15A139.2,139.2 0 0 0 957.09,745.54Z" fill="#f8f699" stroke="#000" stroke-width="0.95" stroke-linejoin="round"/>
<path d="M892.40,868.80L957.09,745.54A139.2,139.2 0 0 0 946.96,740.74Z" fill="#f5ea8b" stroke="#000" stroke-width="0.95" stroke-linejoin="round"/>
<path d="M892.40,868.80L946.96,740.74A139.2,139.2 0 0 0 936.48,736.76Z" fill="#e7cd77" stroke="#000" stroke-width="0.95" stroke-linejoin="round"/>
<path d="M892.40,868.80L936.48,736.76A139.2,139.2 0 0 0 925.71,733.64Z" fill="#dab063" stroke="#000" stroke-width="0.95" stroke-linejoin="round"/>
<path d="M892.40,868.80L925.71,733.64A139.2,139.2 0 0 0 914.73,731.40Z" fill="#cc934f" stroke="#000" stroke-width="0.95" stroke-linejoin="round"/>
<path d="M892.40,868.80L914.73,731.40A139.2,139.2 0 0 0 903.60,730.05Z" fill="#bf763c" stroke="#000" stroke-width="0.95" stroke-linejoin="round"/>
<path d="M892.40,868.80L903.60,730.05A139.2,139.2 0 0 0 892.40,729.60Z" fill="#b15928" stroke="#000" stroke-width="0.95" stroke-linejoin="round"/>
<circle cx="892.4" cy="868.8" r="46.2" fill="#fff" stroke="#000" stroke-width="0.95"/>
<path d="M887.74,717.97A150.9,150.9 0 0 0 840.22,1010.39" fill="none" stroke="#1a1311" stroke-width="2.4"/>
<path d="M849.06,1013.34A150.9,150.9 0 1 0 897.06,717.97" fill="none" stroke="#1a1311" stroke-width="2.4"/>
<rect x="115" y="43" width="252.60" height="252.70" fill="none" stroke="#000" stroke-width="2"/>
<path fill="#2251a3" d="M135.15 189.89h10.26v3.60h-10.26zM278.34 189.89h3.60v3.60h-3.60zM135.15 193.22h3.60v3.60h-3.60zM181.76 193.22h3.60v3.60h-3.60zM188.43 193.22h3.60v3.60h-3.60zM195.09 193.22h6.93v3.60h-6.93zM211.74 193.22h3.60v3.60h-3.60zM151.80 196.55h6.93v3.60h-6.93zM168.44 196.55h3.60v3.60h-3.60zM181.76 196.55h3.60v3.60h-3.60zM205.07 196.55h3.60v3.60h-3.60zM261.69 196.55h3.60v3.60h-3.60zM121.82 199.88h3.60v3.60h-3.60zM131.81 199.88h3.60v3.60h-3.60zM165.12 199.88h26.91v3.60h-26.91zM271.68 199.88h3.60v3.60h-3.60zM288.32 199.88h3.60v3.60h-3.60zM128.49 203.21h6.93v3.60h-6.93zM151.80 203.21h6.93v3.60h-6.93zM161.79 203.21h3.60v3.60h-3.60zM168.44 203.21h3.60v3.60h-3.60zM175.11 203.21h6.93v3.60h-6.93zM208.41 203.21h3.60v3.60h-3.60zM238.38 203.21h3.60v3.60h-3.60zM255.03 203.21h3.60v3.60h-3.60zM265.01 203.21h3.60v3.60h-3.60zM291.66 203.21h3.60v3.60h-3.60zM298.31 203.21h3.60v3.60h-3.60zM128.49 206.54h6.93v3.60h-6.93zM151.80 206.54h6.93v3.60h-6.93zM165.12 206.54h13.59v3.60h-13.59zM181.76 206.54h3.60v3.60h-3.60zM188.43 206.54h3.60v3.60h-3.60zM195.09 206.54h3.60v3.60h-3.60zM205.07 206.54h3.60v3.60h-3.60zM211.74 206.54h3.60v3.60h-3.60zM228.38 206.54h3.60v3.60h-3.60zM255.03 206.54h3.60v3.60h-3.60zM261.69 206.54h3.60v3.60h-3.60zM275.00 206.54h3.60v3.60h-3.60zM281.67 206.54h3.60v3.60h-3.60zM128.49 209.87h6.93v3.60h-6.93zM155.12 209.87h13.59v3.60h-13.59zM171.78 209.87h3.60v3.60h-3.60zM198.42 209.87h3.60v3.60h-3.60zM218.40 209.87h3.60v3.60h-3.60zM328.29 209.87h3.60v3.60h-3.60zM128.49 213.20h3.60v3.60h-3.60zM155.12 213.20h16.92v3.60h-16.92zM175.11 213.20h3.60v3.60h-3.60zM191.75 213.20h6.93v3.60h-6.93zM221.73 213.20h3.60v3.60h-3.60zM235.05 213.20h3.60v3.60h-3.60zM245.04 213.20h3.60v3.60h-3.60zM275.00 213.20h6.93v3.60h-6.93zM298.31 213.20h3.60v3.60h-3.60zM304.98 213.20h3.60v3.60h-3.60zM118.49 216.53h3.60v3.60h-3.60zM125.15 216.53h6.93v3.60h-6.93zM151.80 216.53h6.93v3.60h-6.93zM161.79 216.53h3.60v3.60h-3.60zM178.44 216.53h6.93v3.60h-6.93zM188.43 216.53h3.60v3.60h-3.60zM221.73 216.53h3.60v3.60h-3.60zM248.37 216.53h3.60v3.60h-3.60zM291.66 216.53h3.60v3.60h-3.60zM125.15 219.86h6.93v3.60h-6.93zM155.12 219.86h6.93v3.60h-6.93zM165.12 219.86h3.60v3.60h-3.60zM171.78 219.86h10.26v3.60h-10.26zM185.10 219.86h3.60v3.60h-3.60zM205.07 219.86h3.60v3.60h-3.60zM215.06 219.86h3.60v3.60h-3.60zM255.03 219.86h3.60v3.60h-3.60zM281.67 219.86h3.60v3.60h-3.60zM294.99 219.86h3.60v3.60h-3.60zM125.15 223.19h10.26v3.60h-10.26zM155.12 223.19h10.26v3.60h-10.26zM168.44 223.19h10.26v3.60h-10.26zM201.75 223.19h3.60v3.60h-3.60zM228.38 223.19h3.60v3.60h-3.60zM235.05 223.19h3.60v3.60h-3.60zM281.67 223.19h3.60v3.60h-3.60zM128.49 226.52h3.60v3.60h-3.60zM155.12 226.52h10.26v3.60h-10.26zM168.44 226.52h3.60v3.60h-3.60zM178.44 226.52h6.93v3.60h-6.93zM191.75 226.52h6.93v3.60h-6.93zM201.75 226.52h6.93v3.60h-6.93zM215.06 226.52h3.60v3.60h-3.60zM251.69 226.52h3.60v3.60h-3.60zM261.69 226.52h3.60v3.60h-3.60zM268.35 226.52h6.93v3.60h-6.93zM288.32 226.52h3.60v3.60h-3.60zM308.31 226.52h3.60v3.60h-3.60zM128.49 229.85h3.60v3.60h-3.60zM155.12 229.85h6.93v3.60h-6.93zM165.12 229.85h3.60v3.60h-3.60zM171.78 229.85h6.93v3.60h-6.93zM185.10 229.85h3.60v3.60h-3.60zM191.75 229.85h3.60v3.60h-3.60zM198.42 229.85h3.60v3.60h-3.60zM211.74 229.85h3.60v3.60h-3.60zM218.40 229.85h3.60v3.60h-3.60zM235.05 229.85h3.60v3.60h-3.60zM245.04 229.85h10.26v3.60h-10.26zM285.00 229.85h3.60v3.60h-3.60zM291.66 229.85h3.60v3.60h-3.60zM128.49 233.18h3.60v3.60h-3.60zM155.12 233.18h10.26v3.60h-10.26zM168.44 233.18h3.60v3.60h-3.60zM178.44 233.18h3.60v3.60h-3.60zM188.43 233.18h6.93v3.60h-6.93zM205.07 233.18h3.60v3.60h-3.60zM211.74 233.18h3.60v3.60h-3.60zM238.38 233.18h3.60v3.60h-3.60zM265.01 233.18h3.60v3.60h-3.60zM298.31 233.18h3.60v3.60h-3.60zM125.15 236.51h10.26v3.60h-10.26zM155.12 236.51h16.92v3.60h-16.92zM175.11 236.51h13.59v3.60h-13.59zM218.40 236.51h3.60v3.60h-3.60zM245.04 236.51h3.60v3.60h-3.60zM255.03 236.51h3.60v3.60h-3.60zM265.01 236.51h3.60v3.60h-3.60zM128.49 239.84h3.60v3.60h-3.60zM155.12 239.84h10.26v3.60h-10.26zM168.44 239.84h3.60v3.60h-3.60zM175.11 239.84h3.60v3.60h-3.60zM181.76 239.84h6.93v3.60h-6.93zM195.09 239.84h3.60v3.60h-3.60zM205.07 239.84h6.93v3.60h-6.93zM248.37 239.84h3.60v3.60h-3.60zM261.69 239.84h3.60v3.60h-3.60zM281.67 239.84h3.60v3.60h-3.60zM294.99 239.84h3.60v3.60h-3.60zM128.49 243.17h3.60v3.60h-3.60zM151.80 243.17h10.26v3.60h-10.26zM165.12 243.17h3.60v3.60h-3.60zM175.11 243.17h6.93v3.60h-6.93zM221.73 243.17h3.60v3.60h-3.60zM268.35 243.17h3.60v3.60h-3.60zM128.49 246.50h3.60v3.60h-3.60zM155.12 246.50h3.60v3.60h-3.60zM161.79 246.50h3.60v3.60h-3.60zM168.44 246.50h3.60v3.60h-3.60zM175.11 246.50h16.92v3.60h-16.92zM208.41 246.50h6.93v3.60h-6.93zM251.69 246.50h3.60v3.60h-3.60zM261.69 246.50h3.60v3.60h-3.60zM268.35 246.50h3.60v3.60h-3.60zM275.00 246.50h6.93v3.60h-6.93zM301.65 246.50h3.60v3.60h-3.60zM308.31 246.50h3.60v3.60h-3.60zM331.62 246.50h3.60v3.60h-3.60zM151.80 249.83h23.58v3.60h-23.58zM188.43 249.83h3.60v3.60h-3.60zM195.09 249.83h3.60v3.60h-3.60zM201.75 249.83h6.93v3.60h-6.93zM255.03 249.83h3.60v3.60h-3.60zM271.68 249.83h3.60v3.60h-3.60zM128.49 253.16h3.60v3.60h-3.60zM155.12 253.16h3.60v3.60h-3.60zM161.79 253.16h16.92v3.60h-16.92zM181.76 253.16h3.60v3.60h-3.60zM208.41 253.16h3.60v3.60h-3.60zM128.49 256.49h6.93v3.60h-6.93zM151.80 256.49h3.60v3.60h-3.60zM158.46 256.49h13.59v3.60h-13.59zM191.75 256.49h3.60v3.60h-3.60zM205.07 256.49h3.60v3.60h-3.60zM218.40 256.49h3.60v3.60h-3.60zM275.00 256.49h3.60v3.60h-3.60zM298.31 256.49h3.60v3.60h-3.60zM131.81 259.82h3.60v3.60h-3.60zM151.80 259.82h6.93v3.60h-6.93zM168.44 259.82h6.93v3.60h-6.93zM191.75 259.82h3.60v3.60h-3.60zM255.03 259.82h3.60v3.60h-3.60zM308.31 259.82h3.60v3.60h-3.60zM131.81 263.14h6.93v3.60h-6.93zM151.80 263.14h6.93v3.60h-6.93zM168.44 263.14h3.60v3.60h-3.60zM255.03 263.14h3.60v3.60h-3.60zM131.81 266.48h6.93v3.60h-6.93zM148.47 266.48h3.60v3.60h-3.60zM135.15 269.81h6.93v3.60h-6.93zM151.80 269.81h3.60v3.60h-3.60zM278.34 269.81h3.60v3.60h-3.60zM301.65 269.81h3.60v3.60h-3.60zM141.81 273.13h3.60v3.60h-3.60z"/>
<path fill="#36a8e0" d="M138.48 193.22h6.93v3.60h-6.93zM148.47 193.22h3.60v3.60h-3.60zM135.15 196.55h3.60v3.60h-3.60zM145.13 196.55h6.93v3.60h-6.93zM145.13 199.88h6.93v3.60h-6.93zM148.47 203.21h3.60v3.60h-3.60zM148.47 206.54h3.60v3.60h-3.60zM151.80 209.87h3.60v3.60h-3.60zM131.81 213.20h3.60v3.60h-3.60zM151.80 213.20h3.60v3.60h-3.60zM131.81 216.53h3.60v3.60h-3.60zM151.80 219.86h3.60v3.60h-3.60zM151.80 223.19h3.60v3.60h-3.60zM131.81 226.52h3.60v3.60h-3.60zM131.81 229.85h3.60v3.60h-3.60zM151.80 236.51h3.60v3.60h-3.60zM131.81 239.84h3.60v3.60h-3.60zM151.80 239.84h3.60v3.60h-3.60zM131.81 243.17h3.60v3.60h-3.60zM151.80 246.50h3.60v3.60h-3.60zM131.81 249.83h3.60v3.60h-3.60zM131.81 253.16h3.60v3.60h-3.60zM151.80 253.16h3.60v3.60h-3.60zM135.15 256.49h3.60v3.60h-3.60zM135.15 259.82h3.60v3.60h-3.60zM148.47 263.14h3.60v3.60h-3.60zM138.48 266.48h3.60v3.60h-3.60zM145.13 266.48h3.60v3.60h-3.60zM141.81 269.81h6.93v3.60h-6.93z"/>
<path fill="#6bbfa5" d="M138.48 196.55h6.93v3.60h-6.93zM135.15 199.88h10.26v3.60h-10.26zM135.15 203.21h3.60v3.60h-3.60zM141.81 203.21h3.60v3.60h-3.60zM135.15 206.54h3.60v3.60h-3.60zM145.13 206.54h3.60v3.60h-3.60zM148.47 213.20h3.60v3.60h-3.60zM131.81 219.86h3.60v3.60h-3.60zM151.80 226.52h3.60v3.60h-3.60zM151.80 229.85h3.60v3.60h-3.60zM131.81 233.18h3.60v3.60h-3.60zM151.80 233.18h3.60v3.60h-3.60zM131.81 246.50h3.60v3.60h-3.60zM148.47 256.49h3.60v3.60h-3.60zM138.48 259.82h3.60v3.60h-3.60zM148.47 259.82h3.60v3.60h-3.60zM138.48 263.14h10.26v3.60h-10.26zM141.81 266.48h3.60v3.60h-3.60z"/>
<path fill="#7dc243" d="M138.48 203.21h3.60v3.60h-3.60zM145.13 203.21h3.60v3.60h-3.60zM138.48 206.54h6.93v3.60h-6.93zM135.15 209.87h3.60v3.60h-3.60zM145.13 209.87h6.93v3.60h-6.93zM135.15 213.20h3.60v3.60h-3.60zM135.15 216.53h3.60v3.60h-3.60zM148.47 216.53h3.60v3.60h-3.60zM135.15 223.19h3.60v3.60h-3.60zM135.15 226.52h3.60v3.60h-3.60zM148.47 249.83h3.60v3.60h-3.60zM135.15 253.16h3.60v3.60h-3.60zM148.47 253.16h3.60v3.60h-3.60zM145.13 259.82h3.60v3.60h-3.60z"/>
<path fill="#b3d236" d="M138.48 209.87h6.93v3.60h-6.93zM138.48 213.20h3.60v3.60h-3.60zM145.13 213.20h3.60v3.60h-3.60zM145.13 216.53h3.60v3.60h-3.60zM135.15 219.86h3.60v3.60h-3.60zM148.47 219.86h3.60v3.60h-3.60zM148.47 223.19h3.60v3.60h-3.60zM148.47 226.52h3.60v3.60h-3.60zM135.15 229.85h3.60v3.60h-3.60zM148.47 229.85h3.60v3.60h-3.60zM135.15 239.84h3.60v3.60h-3.60zM135.15 243.17h3.60v3.60h-3.60zM148.47 246.50h3.60v3.60h-3.60zM135.15 249.83h3.60v3.60h-3.60zM138.48 256.49h3.60v3.60h-3.60z"/>
<path fill="#f2e31b" d="M141.81 213.20h3.60v3.60h-3.60zM138.48 216.53h6.93v3.60h-6.93zM138.48 219.86h10.26v3.60h-10.26zM145.13 223.19h3.60v3.60h-3.60zM135.15 233.18h3.60v3.60h-3.60zM148.47 233.18h3.60v3.60h-3.60zM135.15 236.51h3.60v3.60h-3.60zM148.47 236.51h3.60v3.60h-3.60zM148.47 239.84h3.60v3.60h-3.60zM148.47 243.17h3.60v3.60h-3.60zM135.15 246.50h3.60v3.60h-3.60zM138.48 253.16h3.60v3.60h-3.60zM145.13 253.16h3.60v3.60h-3.60zM145.13 256.49h3.60v3.60h-3.60zM141.81 259.82h3.60v3.60h-3.60z"/>
<path fill="#f7931e" d="M138.48 223.19h6.93v3.60h-6.93zM138.48 226.52h3.60v3.60h-3.60zM145.13 226.52h3.60v3.60h-3.60zM138.48 249.83h3.60v3.60h-3.60zM145.13 249.83h3.60v3.60h-3.60zM141.81 256.49h3.60v3.60h-3.60z"/>
<path fill="#e5231d" d="M141.81 226.52h3.60v3.60h-3.60zM138.48 229.85h10.26v3.60h-10.26zM138.48 233.18h10.26v3.60h-10.26zM138.48 236.51h10.26v3.60h-10.26zM138.48 239.84h10.26v3.60h-10.26zM138.48 243.17h10.26v3.60h-10.26zM138.48 246.50h10.26v3.60h-10.26zM141.81 249.83h3.60v3.60h-3.60zM141.81 253.16h3.60v3.60h-3.60z"/>
<rect x="242.8" y="155.7" width="113.7" height="133.3" fill="none" stroke="#000" stroke-width="2"/>
<line x1="107.5" y1="295.70" x2="115" y2="295.70" stroke="#000" stroke-width="1.6"/>
<line x1="111.2" y1="286.13" x2="115" y2="286.13" stroke="#000" stroke-width="1.6"/>
<line x1="111.2" y1="276.56" x2="115" y2="276.56" stroke="#000" stroke-width="1.6"/>
<line x1="111.2" y1="267.00" x2="115" y2="267.00" stroke="#000" stroke-width="1.6"/>
<line x1="111.2" y1="257.43" x2="115" y2="257.43" stroke="#000" stroke-width="1.6"/>
<line x1="107.5" y1="247.86" x2="115" y2="247.86" stroke="#000" stroke-width="1.6"/>
<line x1="111.2" y1="238.29" x2="115" y2="238.29" stroke="#000" stroke-width="1.6"/>
<line x1="111.2" y1="228.72" x2="115" y2="228.72" stroke="#000" stroke-width="1.6"/>
<line x1="111.2" y1="219.16" x2="115" y2="219.16" stroke="#000" stroke-width="1.6"/>
<line x1="111.2" y1="209.59" x2="115" y2="209.59" stroke="#000" stroke-width="1.6"/>
<line x1="107.5" y1="200.02" x2="115" y2="200.02" stroke="#000" stroke-width="1.6"/>
<line x1="111.2" y1="190.45" x2="115" y2="190.45" stroke="#000" stroke-width="1.6"/>
<line x1="111.2" y1="180.88" x2="115" y2="180.88" stroke="#000" stroke-width="1.6"/>
<line x1="111.2" y1="171.32" x2="115" y2="171.32" stroke="#000" stroke-width="1.6"/>
<line x1="111.2" y1="161.75" x2="115" y2="161.75" stroke="#000" stroke-width="1.6"/>
<line x1="107.5" y1="152.18" x2="115" y2="152.18" stroke="#000" stroke-width="1.6"/>
<line x1="111.2" y1="142.61" x2="115" y2="142.61" stroke="#000" stroke-width="1.6"/>
<line x1="111.2" y1="133.04" x2="115" y2="133.04" stroke="#000" stroke-width="1.6"/>
<line x1="111.2" y1="123.48" x2="115" y2="123.48" stroke="#000" stroke-width="1.6"/>
<line x1="111.2" y1="113.91" x2="115" y2="113.91" stroke="#000" stroke-width="1.6"/>
<line x1="107.5" y1="104.34" x2="115" y2="104.34" stroke="#000" stroke-width="1.6"/>
<line x1="111.2" y1="94.77" x2="115" y2="94.77" stroke="#000" stroke-width="1.6"/>
<line x1="111.2" y1="85.20" x2="115" y2="85.20" stroke="#000" stroke-width="1.6"/>
<line x1="111.2" y1="75.64" x2="115" y2="75.64" stroke="#000" stroke-width="1.6"/>
<line x1="111.2" y1="66.07" x2="115" y2="66.07" stroke="#000" stroke-width="1.6"/>
<line x1="107.5" y1="56.50" x2="115" y2="56.50" stroke="#000" stroke-width="1.6"/>
<line x1="111.2" y1="46.93" x2="115" y2="46.93" stroke="#000" stroke-width="1.6"/>
<line x1="120.4" y1="295.7" x2="120.4" y2="302.7" stroke="#000" stroke-width="2"/>
<line x1="142.2" y1="295.7" x2="142.2" y2="302.7" stroke="#000" stroke-width="2"/>
<line x1="165.6" y1="295.7" x2="165.6" y2="302.7" stroke="#000" stroke-width="2"/>
<line x1="226.3" y1="295.7" x2="226.3" y2="302.7" stroke="#000" stroke-width="2"/>
<line x1="285.0" y1="295.7" x2="285.0" y2="302.7" stroke="#000" stroke-width="2"/>
<line x1="343.3" y1="295.7" x2="343.3" y2="302.7" stroke="#000" stroke-width="2"/>
<line x1="183.9" y1="295.7" x2="183.9" y2="299.5" stroke="#000" stroke-width="1.3"/>
<line x1="194.6" y1="295.7" x2="194.6" y2="299.5" stroke="#000" stroke-width="1.3"/>
<line x1="202.1" y1="295.7" x2="202.1" y2="299.5" stroke="#000" stroke-width="1.3"/>
<line x1="208.0" y1="295.7" x2="208.0" y2="299.5" stroke="#000" stroke-width="1.3"/>
<line x1="212.8" y1="295.7" x2="212.8" y2="299.5" stroke="#000" stroke-width="1.3"/>
<line x1="216.9" y1="295.7" x2="216.9" y2="299.5" stroke="#000" stroke-width="1.3"/>
<line x1="220.4" y1="295.7" x2="220.4" y2="299.5" stroke="#000" stroke-width="1.3"/>
<line x1="223.5" y1="295.7" x2="223.5" y2="299.5" stroke="#000" stroke-width="1.3"/>
<line x1="244.0" y1="295.7" x2="244.0" y2="299.5" stroke="#000" stroke-width="1.3"/>
<line x1="254.3" y1="295.7" x2="254.3" y2="299.5" stroke="#000" stroke-width="1.3"/>
<line x1="261.6" y1="295.7" x2="261.6" y2="299.5" stroke="#000" stroke-width="1.3"/>
<line x1="267.3" y1="295.7" x2="267.3" y2="299.5" stroke="#000" stroke-width="1.3"/>
<line x1="272.0" y1="295.7" x2="272.0" y2="299.5" stroke="#000" stroke-width="1.3"/>
<line x1="275.9" y1="295.7" x2="275.9" y2="299.5" stroke="#000" stroke-width="1.3"/>
<line x1="279.3" y1="295.7" x2="279.3" y2="299.5" stroke="#000" stroke-width="1.3"/>
<line x1="282.3" y1="295.7" x2="282.3" y2="299.5" stroke="#000" stroke-width="1.3"/>
<line x1="302.6" y1="295.7" x2="302.6" y2="299.5" stroke="#000" stroke-width="1.3"/>
<line x1="312.8" y1="295.7" x2="312.8" y2="299.5" stroke="#000" stroke-width="1.3"/>
<line x1="320.1" y1="295.7" x2="320.1" y2="299.5" stroke="#000" stroke-width="1.3"/>
<line x1="325.7" y1="295.7" x2="325.7" y2="299.5" stroke="#000" stroke-width="1.3"/>
<line x1="330.4" y1="295.7" x2="330.4" y2="299.5" stroke="#000" stroke-width="1.3"/>
<line x1="334.3" y1="295.7" x2="334.3" y2="299.5" stroke="#000" stroke-width="1.3"/>
<line x1="337.7" y1="295.7" x2="337.7" y2="299.5" stroke="#000" stroke-width="1.3"/>
<line x1="340.6" y1="295.7" x2="340.6" y2="299.5" stroke="#000" stroke-width="1.3"/>
<line x1="360.9" y1="295.7" x2="360.9" y2="299.5" stroke="#000" stroke-width="1.3"/>
<line x1="124" y1="295.7" x2="124" y2="299.5" stroke="#000" stroke-width="1.3"/>
<line x1="127" y1="295.7" x2="127" y2="299.5" stroke="#000" stroke-width="1.3"/>
<line x1="130" y1="295.7" x2="130" y2="299.5" stroke="#000" stroke-width="1.3"/>
<line x1="133" y1="295.7" x2="133" y2="299.5" stroke="#000" stroke-width="1.3"/>
<line x1="136" y1="295.7" x2="136" y2="299.5" stroke="#000" stroke-width="1.3"/>
<line x1="148" y1="295.7" x2="148" y2="299.5" stroke="#000" stroke-width="1.3"/>
<line x1="151" y1="295.7" x2="151" y2="299.5" stroke="#000" stroke-width="1.3"/>
<line x1="154" y1="295.7" x2="154" y2="299.5" stroke="#000" stroke-width="1.3"/>
<line x1="157" y1="295.7" x2="157" y2="299.5" stroke="#000" stroke-width="1.3"/>
<line x1="160" y1="295.7" x2="160" y2="299.5" stroke="#000" stroke-width="1.3"/>
<rect x="139.2" y="295.7" width="7" height="7" fill="#000"/>
<rect x="114.6" y="387" width="252.80" height="252.80" fill="none" stroke="#000" stroke-width="2"/>
<path fill="#2251a3" d="M161.49 414.00h3.60v3.60h-3.60zM264.72 417.34h3.60v3.60h-3.60zM151.50 420.67h3.60v3.60h-3.60zM254.73 427.32h3.60v3.60h-3.60zM254.73 430.66h6.93v3.60h-6.93zM244.74 433.99h10.26v3.60h-10.26zM238.08 437.31h3.60v3.60h-3.60zM144.84 443.98h3.60v3.60h-3.60zM241.41 443.98h3.60v3.60h-3.60zM238.08 447.31h3.60v3.60h-3.60zM228.09 450.63h3.60v3.60h-3.60zM244.74 450.63h3.60v3.60h-3.60zM234.75 457.30h3.60v3.60h-3.60zM244.74 457.30h3.60v3.60h-3.60zM221.43 460.62h3.60v3.60h-3.60zM231.42 460.62h3.60v3.60h-3.60zM254.73 460.62h3.60v3.60h-3.60zM248.06 467.29h3.60v3.60h-3.60zM211.44 470.62h3.60v3.60h-3.60zM231.42 473.94h3.60v3.60h-3.60zM244.74 473.94h3.60v3.60h-3.60zM201.44 477.27h3.60v3.60h-3.60zM224.75 477.27h3.60v3.60h-3.60zM241.41 477.27h3.60v3.60h-3.60zM134.84 480.61h3.60v3.60h-3.60zM204.78 483.94h3.60v3.60h-3.60zM191.46 487.26h6.93v3.60h-6.93zM188.12 497.25h3.60v3.60h-3.60zM201.44 497.25h6.93v3.60h-6.93zM228.09 500.59h3.60v3.60h-3.60zM184.80 503.92h3.60v3.60h-3.60zM138.18 507.25h3.60v3.60h-3.60zM184.80 507.25h3.60v3.60h-3.60zM204.78 507.25h3.60v3.60h-3.60zM138.18 510.58h3.60v3.60h-3.60zM148.17 510.58h3.60v3.60h-3.60zM218.10 510.58h3.60v3.60h-3.60zM151.50 513.90h3.60v3.60h-3.60zM181.47 513.90h6.93v3.60h-6.93zM274.71 513.90h3.60v3.60h-3.60zM164.81 517.24h3.60v3.60h-3.60zM181.47 517.24h6.93v3.60h-6.93zM204.78 517.24h3.60v3.60h-3.60zM174.81 520.57h3.60v3.60h-3.60zM188.12 520.57h3.60v3.60h-3.60zM198.12 520.57h3.60v3.60h-3.60zM211.44 520.57h3.60v3.60h-3.60zM148.17 523.89h3.60v3.60h-3.60zM154.83 523.89h3.60v3.60h-3.60zM194.79 523.89h3.60v3.60h-3.60zM138.18 527.23h3.60v3.60h-3.60zM151.50 527.23h3.60v3.60h-3.60zM158.16 527.23h3.60v3.60h-3.60zM188.12 527.23h3.60v3.60h-3.60zM201.44 527.23h6.93v3.60h-6.93zM141.50 530.56h3.60v3.60h-3.60zM178.14 530.56h3.60v3.60h-3.60zM151.50 533.88h3.60v3.60h-3.60zM158.16 533.88h6.93v3.60h-6.93zM191.46 533.88h3.60v3.60h-3.60zM141.50 537.22h10.26v3.60h-10.26zM168.15 537.22h6.93v3.60h-6.93zM218.10 537.22h3.60v3.60h-3.60zM134.84 540.55h10.26v3.60h-10.26zM148.17 540.55h6.93v3.60h-6.93zM158.16 540.55h3.60v3.60h-3.60zM164.81 540.55h3.60v3.60h-3.60zM134.84 543.88h6.93v3.60h-6.93zM144.84 543.88h10.26v3.60h-10.26zM164.81 543.88h6.93v3.60h-6.93zM181.47 543.88h3.60v3.60h-3.60zM191.46 543.88h3.60v3.60h-3.60zM208.11 543.88h3.60v3.60h-3.60zM128.19 547.21h3.60v3.60h-3.60zM134.84 547.21h20.25v3.60h-20.25zM168.15 547.21h10.26v3.60h-10.26zM131.52 550.54h26.91v3.60h-26.91zM164.81 550.54h3.60v3.60h-3.60zM131.52 553.87h33.57v3.60h-33.57zM208.11 553.87h3.60v3.60h-3.60zM241.41 553.87h3.60v3.60h-3.60zM124.85 557.20h10.26v3.60h-10.26zM148.17 557.20h10.26v3.60h-10.26zM164.81 557.20h3.60v3.60h-3.60zM188.12 557.20h3.60v3.60h-3.60zM128.19 560.52h6.93v3.60h-6.93zM138.18 560.52h3.60v3.60h-3.60zM151.50 560.52h10.26v3.60h-10.26zM164.81 560.52h3.60v3.60h-3.60zM194.79 560.52h3.60v3.60h-3.60zM131.52 563.86h6.93v3.60h-6.93zM151.50 563.86h13.59v3.60h-13.59zM168.15 563.86h3.60v3.60h-3.60zM244.74 563.86h3.60v3.60h-3.60zM128.19 567.18h6.93v3.60h-6.93zM151.50 567.18h16.92v3.60h-16.92zM171.48 567.18h3.60v3.60h-3.60zM261.38 567.18h3.60v3.60h-3.60zM154.83 570.51h16.92v3.60h-16.92zM178.14 570.51h3.60v3.60h-3.60zM151.50 573.85h10.26v3.60h-10.26zM168.15 573.85h6.93v3.60h-6.93zM194.79 573.85h6.93v3.60h-6.93zM121.52 577.17h3.60v3.60h-3.60zM128.19 577.17h3.60v3.60h-3.60zM154.83 577.17h16.92v3.60h-16.92zM214.77 577.17h3.60v3.60h-3.60zM278.04 577.17h3.60v3.60h-3.60zM124.85 580.50h3.60v3.60h-3.60zM154.83 580.50h13.59v3.60h-13.59zM178.14 580.50h3.60v3.60h-3.60zM154.83 583.84h10.26v3.60h-10.26zM168.15 583.84h6.93v3.60h-6.93zM198.12 583.84h3.60v3.60h-3.60zM128.19 587.16h3.60v3.60h-3.60zM154.83 587.16h10.26v3.60h-10.26zM168.15 587.16h3.60v3.60h-3.60zM184.80 587.16h6.93v3.60h-6.93zM128.19 590.50h10.26v3.60h-10.26zM151.50 590.50h13.59v3.60h-13.59zM168.15 590.50h3.60v3.60h-3.60zM131.52 593.83h6.93v3.60h-6.93zM144.84 593.83h16.92v3.60h-16.92zM168.15 593.83h3.60v3.60h-3.60zM181.47 593.83h3.60v3.60h-3.60zM214.77 593.83h3.60v3.60h-3.60zM124.85 597.15h46.89v3.60h-46.89zM298.01 597.15h3.60v3.60h-3.60zM131.52 600.49h36.90v3.60h-36.90zM134.84 603.82h30.24v3.60h-30.24zM134.84 607.14h23.58v3.60h-23.58zM131.52 610.48h6.93v3.60h-6.93zM141.50 610.48h13.59v3.60h-13.59zM138.18 613.81h13.59v3.60h-13.59zM158.16 613.81h3.60v3.60h-3.60zM138.18 617.13h3.60v3.60h-3.60zM148.17 617.13h3.60v3.60h-3.60zM154.83 617.13h3.60v3.60h-3.60z"/>
<path fill="#36a8e0" d="M134.84 557.20h6.93v3.60h-6.93zM144.84 557.20h3.60v3.60h-3.60zM134.84 560.52h3.60v3.60h-3.60zM144.84 560.52h6.93v3.60h-6.93zM148.17 563.86h3.60v3.60h-3.60zM151.50 570.51h3.60v3.60h-3.60zM131.52 580.50h3.60v3.60h-3.60zM151.50 583.84h3.60v3.60h-3.60zM131.52 587.16h6.93v3.60h-6.93zM151.50 587.16h3.60v3.60h-3.60zM148.17 590.50h3.60v3.60h-3.60zM141.50 593.83h3.60v3.60h-3.60z"/>
<path fill="#6bbfa5" d="M141.50 557.20h3.60v3.60h-3.60zM141.50 560.52h3.60v3.60h-3.60zM144.84 563.86h3.60v3.60h-3.60zM131.52 570.51h3.60v3.60h-3.60zM131.52 573.85h3.60v3.60h-3.60zM131.52 577.17h3.60v3.60h-3.60zM151.50 577.17h3.60v3.60h-3.60zM151.50 580.50h3.60v3.60h-3.60zM131.52 583.84h3.60v3.60h-3.60zM148.17 587.16h3.60v3.60h-3.60zM138.18 590.50h10.26v3.60h-10.26zM138.18 593.83h3.60v3.60h-3.60z"/>
<path fill="#7dc243" d="M138.18 563.86h6.93v3.60h-6.93zM144.84 567.18h6.93v3.60h-6.93zM148.17 570.51h3.60v3.60h-3.60zM148.17 583.84h3.60v3.60h-3.60zM138.18 587.16h3.60v3.60h-3.60z"/>
<path fill="#b3d236" d="M134.84 567.18h3.60v3.60h-3.60zM141.50 567.18h3.60v3.60h-3.60zM134.84 570.51h3.60v3.60h-3.60zM134.84 580.50h3.60v3.60h-3.60zM148.17 580.50h3.60v3.60h-3.60zM134.84 583.84h3.60v3.60h-3.60zM141.50 587.16h6.93v3.60h-6.93z"/>
<path fill="#f2e31b" d="M138.18 567.18h3.60v3.60h-3.60zM138.18 570.51h3.60v3.60h-3.60zM134.84 573.85h3.60v3.60h-3.60zM148.17 573.85h3.60v3.60h-3.60zM134.84 577.17h3.60v3.60h-3.60zM148.17 577.17h3.60v3.60h-3.60zM138.18 583.84h6.93v3.60h-6.93z"/>
<path fill="#f7931e" d="M144.84 570.51h3.60v3.60h-3.60zM144.84 583.84h3.60v3.60h-3.60z"/>
<path fill="#e5231d" d="M141.50 570.51h3.60v3.60h-3.60zM138.18 573.85h10.26v3.60h-10.26zM138.18 577.17h10.26v3.60h-10.26zM138.18 580.50h10.26v3.60h-10.26z"/>
<ellipse cx="259.0" cy="436.3" rx="58" ry="31.7" fill="none" stroke="#000" stroke-width="2" transform="rotate(-48.4 259.0 436.3)"/>
<line x1="120.4" y1="639.8" x2="120.4" y2="646.8" stroke="#000" stroke-width="2"/>
<line x1="142.2" y1="639.8" x2="142.2" y2="646.8" stroke="#000" stroke-width="2"/>
<line x1="165.6" y1="639.8" x2="165.6" y2="646.8" stroke="#000" stroke-width="2"/>
<line x1="226.3" y1="639.8" x2="226.3" y2="646.8" stroke="#000" stroke-width="2"/>
<line x1="285.0" y1="639.8" x2="285.0" y2="646.8" stroke="#000" stroke-width="2"/>
<line x1="343.3" y1="639.8" x2="343.3" y2="646.8" stroke="#000" stroke-width="2"/>
<line x1="183.9" y1="639.8" x2="183.9" y2="643.5999999999999" stroke="#000" stroke-width="1.3"/>
<line x1="194.6" y1="639.8" x2="194.6" y2="643.5999999999999" stroke="#000" stroke-width="1.3"/>
<line x1="202.1" y1="639.8" x2="202.1" y2="643.5999999999999" stroke="#000" stroke-width="1.3"/>
<line x1="208.0" y1="639.8" x2="208.0" y2="643.5999999999999" stroke="#000" stroke-width="1.3"/>
<line x1="212.8" y1="639.8" x2="212.8" y2="643.5999999999999" stroke="#000" stroke-width="1.3"/>
<line x1="216.9" y1="639.8" x2="216.9" y2="643.5999999999999" stroke="#000" stroke-width="1.3"/>
<line x1="220.4" y1="639.8" x2="220.4" y2="643.5999999999999" stroke="#000" stroke-width="1.3"/>
<line x1="223.5" y1="639.8" x2="223.5" y2="643.5999999999999" stroke="#000" stroke-width="1.3"/>
<line x1="244.0" y1="639.8" x2="244.0" y2="643.5999999999999" stroke="#000" stroke-width="1.3"/>
<line x1="254.3" y1="639.8" x2="254.3" y2="643.5999999999999" stroke="#000" stroke-width="1.3"/>
<line x1="261.6" y1="639.8" x2="261.6" y2="643.5999999999999" stroke="#000" stroke-width="1.3"/>
<line x1="267.3" y1="639.8" x2="267.3" y2="643.5999999999999" stroke="#000" stroke-width="1.3"/>
<line x1="272.0" y1="639.8" x2="272.0" y2="643.5999999999999" stroke="#000" stroke-width="1.3"/>
<line x1="275.9" y1="639.8" x2="275.9" y2="643.5999999999999" stroke="#000" stroke-width="1.3"/>
<line x1="279.3" y1="639.8" x2="279.3" y2="643.5999999999999" stroke="#000" stroke-width="1.3"/>
<line x1="282.3" y1="639.8" x2="282.3" y2="643.5999999999999" stroke="#000" stroke-width="1.3"/>
<line x1="302.6" y1="639.8" x2="302.6" y2="643.5999999999999" stroke="#000" stroke-width="1.3"/>
<line x1="312.8" y1="639.8" x2="312.8" y2="643.5999999999999" stroke="#000" stroke-width="1.3"/>
<line x1="320.1" y1="639.8" x2="320.1" y2="643.5999999999999" stroke="#000" stroke-width="1.3"/>
<line x1="325.7" y1="639.8" x2="325.7" y2="643.5999999999999" stroke="#000" stroke-width="1.3"/>
<line x1="330.4" y1="639.8" x2="330.4" y2="643.5999999999999" stroke="#000" stroke-width="1.3"/>
<line x1="334.3" y1="639.8" x2="334.3" y2="643.5999999999999" stroke="#000" stroke-width="1.3"/>
<line x1="337.7" y1="639.8" x2="337.7" y2="643.5999999999999" stroke="#000" stroke-width="1.3"/>
<line x1="340.6" y1="639.8" x2="340.6" y2="643.5999999999999" stroke="#000" stroke-width="1.3"/>
<line x1="360.9" y1="639.8" x2="360.9" y2="643.5999999999999" stroke="#000" stroke-width="1.3"/>
<line x1="124" y1="639.8" x2="124" y2="643.5999999999999" stroke="#000" stroke-width="1.3"/>
<line x1="127" y1="639.8" x2="127" y2="643.5999999999999" stroke="#000" stroke-width="1.3"/>
<line x1="130" y1="639.8" x2="130" y2="643.5999999999999" stroke="#000" stroke-width="1.3"/>
<line x1="133" y1="639.8" x2="133" y2="643.5999999999999" stroke="#000" stroke-width="1.3"/>
<line x1="136" y1="639.8" x2="136" y2="643.5999999999999" stroke="#000" stroke-width="1.3"/>
<line x1="148" y1="639.8" x2="148" y2="643.5999999999999" stroke="#000" stroke-width="1.3"/>
<line x1="151" y1="639.8" x2="151" y2="643.5999999999999" stroke="#000" stroke-width="1.3"/>
<line x1="154" y1="639.8" x2="154" y2="643.5999999999999" stroke="#000" stroke-width="1.3"/>
<line x1="157" y1="639.8" x2="157" y2="643.5999999999999" stroke="#000" stroke-width="1.3"/>
<line x1="160" y1="639.8" x2="160" y2="643.5999999999999" stroke="#000" stroke-width="1.3"/>
<rect x="139.2" y="639.8" width="7" height="7" fill="#000"/>
<line x1="107.1" y1="410.30" x2="114.6" y2="410.30" stroke="#000" stroke-width="2"/>
<line x1="107.1" y1="471.00" x2="114.6" y2="471.00" stroke="#000" stroke-width="2"/>
<line x1="107.1" y1="540.20" x2="114.6" y2="540.20" stroke="#000" stroke-width="2"/>
<line x1="107.1" y1="623.00" x2="114.6" y2="623.00" stroke="#000" stroke-width="2"/>
<line x1="111.0" y1="452.73" x2="114.6" y2="452.73" stroke="#000" stroke-width="1.3"/>
<line x1="111.0" y1="442.04" x2="114.6" y2="442.04" stroke="#000" stroke-width="1.3"/>
<line x1="111.0" y1="434.45" x2="114.6" y2="434.45" stroke="#000" stroke-width="1.3"/>
<line x1="109.1" y1="428.57" x2="114.6" y2="428.57" stroke="#000" stroke-width="1.3"/>
<line x1="111.0" y1="423.77" x2="114.6" y2="423.77" stroke="#000" stroke-width="1.3"/>
<line x1="111.0" y1="419.70" x2="114.6" y2="419.70" stroke="#000" stroke-width="1.3"/>
<line x1="111.0" y1="416.18" x2="114.6" y2="416.18" stroke="#000" stroke-width="1.3"/>
<line x1="111.0" y1="413.08" x2="114.6" y2="413.08" stroke="#000" stroke-width="1.3"/>
<line x1="111.0" y1="519.37" x2="114.6" y2="519.37" stroke="#000" stroke-width="1.3"/>
<line x1="111.0" y1="507.18" x2="114.6" y2="507.18" stroke="#000" stroke-width="1.3"/>
<line x1="111.0" y1="498.54" x2="114.6" y2="498.54" stroke="#000" stroke-width="1.3"/>
<line x1="109.1" y1="491.83" x2="114.6" y2="491.83" stroke="#000" stroke-width="1.3"/>
<line x1="111.0" y1="486.35" x2="114.6" y2="486.35" stroke="#000" stroke-width="1.3"/>
<line x1="111.0" y1="481.72" x2="114.6" y2="481.72" stroke="#000" stroke-width="1.3"/>
<line x1="111.0" y1="477.71" x2="114.6" y2="477.71" stroke="#000" stroke-width="1.3"/>
<line x1="111.0" y1="474.17" x2="114.6" y2="474.17" stroke="#000" stroke-width="1.3"/>
<line x1="110.8" y1="392.03" x2="114.6" y2="392.03" stroke="#000" stroke-width="1.3"/>
<line x1="111.0" y1="544.90" x2="114.6" y2="544.90" stroke="#000" stroke-width="1.3"/>
<line x1="111.0" y1="549.60" x2="114.6" y2="549.60" stroke="#000" stroke-width="1.3"/>
<line x1="111.0" y1="554.30" x2="114.6" y2="554.30" stroke="#000" stroke-width="1.3"/>
<line x1="109.1" y1="559.00" x2="114.6" y2="559.00" stroke="#000" stroke-width="1.3"/>
<line x1="111.0" y1="563.70" x2="114.6" y2="563.70" stroke="#000" stroke-width="1.3"/>
<line x1="111.0" y1="568.40" x2="114.6" y2="568.40" stroke="#000" stroke-width="1.3"/>
<line x1="111.0" y1="573.10" x2="114.6" y2="573.10" stroke="#000" stroke-width="1.3"/>
<line x1="111.0" y1="618.30" x2="114.6" y2="618.30" stroke="#000" stroke-width="1.3"/>
<line x1="111.0" y1="613.60" x2="114.6" y2="613.60" stroke="#000" stroke-width="1.3"/>
<line x1="111.0" y1="608.90" x2="114.6" y2="608.90" stroke="#000" stroke-width="1.3"/>
<line x1="109.1" y1="604.20" x2="114.6" y2="604.20" stroke="#000" stroke-width="1.3"/>
<line x1="111.0" y1="599.50" x2="114.6" y2="599.50" stroke="#000" stroke-width="1.3"/>
<line x1="111.0" y1="594.80" x2="114.6" y2="594.80" stroke="#000" stroke-width="1.3"/>
<line x1="111.0" y1="590.10" x2="114.6" y2="590.10" stroke="#000" stroke-width="1.3"/>
<rect x="109.1" y="575.50" width="5.5" height="12.00" fill="#000"/>
<rect x="107.1" y="577.50" width="2" height="3" fill="#000"/><rect x="107.1" y="581.50" width="2" height="5" fill="#000"/>
<rect x="114.6" y="724.3" width="252.80" height="252.40" fill="none" stroke="#000" stroke-width="2"/>
<path fill="#2251a3" d="M298.01 764.62h3.60v3.60h-3.60zM304.68 771.28h3.60v3.60h-3.60zM311.34 771.28h3.60v3.60h-3.60zM158.16 774.62h3.60v3.60h-3.60zM298.01 774.62h3.60v3.60h-3.60zM308.00 774.62h3.60v3.60h-3.60zM214.77 777.94h3.60v3.60h-3.60zM291.36 777.94h3.60v3.60h-3.60zM308.00 777.94h3.60v3.60h-3.60zM288.02 781.27h3.60v3.60h-3.60zM294.69 781.27h10.26v3.60h-10.26zM288.02 784.61h6.93v3.60h-6.93zM298.01 784.61h3.60v3.60h-3.60zM148.17 787.93h3.60v3.60h-3.60zM281.37 787.93h16.92v3.60h-16.92zM278.04 791.26h6.93v3.60h-6.93zM288.02 791.26h10.26v3.60h-10.26zM274.71 794.60h6.93v3.60h-6.93zM288.02 794.60h3.60v3.60h-3.60zM164.81 797.92h3.60v3.60h-3.60zM174.81 797.92h3.60v3.60h-3.60zM271.38 797.92h3.60v3.60h-3.60zM264.72 801.25h6.93v3.60h-6.93zM284.70 801.25h3.60v3.60h-3.60zM251.40 804.58h3.60v3.60h-3.60zM264.72 804.58h3.60v3.60h-3.60zM271.38 804.58h3.60v3.60h-3.60zM278.04 804.58h6.93v3.60h-6.93zM298.01 804.58h3.60v3.60h-3.60zM261.38 807.91h6.93v3.60h-6.93zM274.71 807.91h3.60v3.60h-3.60zM258.06 811.25h6.93v3.60h-6.93zM268.05 811.25h3.60v3.60h-3.60zM258.06 814.57h3.60v3.60h-3.60zM271.38 814.57h3.60v3.60h-3.60zM154.83 817.90h3.60v3.60h-3.60zM261.38 817.90h6.93v3.60h-6.93zM248.06 821.24h10.26v3.60h-10.26zM248.06 824.56h6.93v3.60h-6.93zM268.05 824.56h3.60v3.60h-3.60zM181.47 827.89h3.60v3.60h-3.60zM251.40 827.89h6.93v3.60h-6.93zM174.81 831.22h3.60v3.60h-3.60zM254.73 831.22h3.60v3.60h-3.60zM158.16 834.55h3.60v3.60h-3.60zM168.15 834.55h3.60v3.60h-3.60zM194.79 834.55h3.60v3.60h-3.60zM238.08 834.55h3.60v3.60h-3.60zM151.50 837.88h3.60v3.60h-3.60zM184.80 837.88h6.93v3.60h-6.93zM208.11 837.88h3.60v3.60h-3.60zM244.74 837.88h6.93v3.60h-6.93zM178.14 841.21h3.60v3.60h-3.60zM188.12 841.21h3.60v3.60h-3.60zM201.44 841.21h3.60v3.60h-3.60zM261.38 841.21h3.60v3.60h-3.60zM171.48 844.54h6.93v3.60h-6.93zM194.79 844.54h10.26v3.60h-10.26zM131.52 847.88h3.60v3.60h-3.60zM144.84 847.88h3.60v3.60h-3.60zM158.16 847.88h3.60v3.60h-3.60zM181.47 847.88h3.60v3.60h-3.60zM148.17 851.20h6.93v3.60h-6.93zM161.49 851.20h3.60v3.60h-3.60zM181.47 851.20h3.60v3.60h-3.60zM191.46 851.20h3.60v3.60h-3.60zM218.10 851.20h3.60v3.60h-3.60zM228.09 851.20h3.60v3.60h-3.60zM244.74 851.20h3.60v3.60h-3.60zM154.83 854.53h3.60v3.60h-3.60zM164.81 854.53h3.60v3.60h-3.60zM178.14 854.53h3.60v3.60h-3.60zM184.80 854.53h3.60v3.60h-3.60zM191.46 854.53h3.60v3.60h-3.60zM208.11 854.53h3.60v3.60h-3.60zM138.18 857.87h3.60v3.60h-3.60zM148.17 857.87h3.60v3.60h-3.60zM161.49 857.87h3.60v3.60h-3.60zM168.15 857.87h3.60v3.60h-3.60zM184.80 857.87h6.93v3.60h-6.93zM198.12 857.87h10.26v3.60h-10.26zM214.77 857.87h3.60v3.60h-3.60zM228.09 857.87h3.60v3.60h-3.60zM238.08 857.87h3.60v3.60h-3.60zM141.50 861.19h3.60v3.60h-3.60zM154.83 861.19h3.60v3.60h-3.60zM168.15 861.19h3.60v3.60h-3.60zM174.81 861.19h3.60v3.60h-3.60zM184.80 861.19h16.92v3.60h-16.92zM204.78 861.19h6.93v3.60h-6.93zM218.10 861.19h3.60v3.60h-3.60zM134.84 864.52h10.26v3.60h-10.26zM154.83 864.52h3.60v3.60h-3.60zM164.81 864.52h10.26v3.60h-10.26zM178.14 864.52h3.60v3.60h-3.60zM184.80 864.52h23.58v3.60h-23.58zM214.77 864.52h3.60v3.60h-3.60zM128.19 867.86h3.60v3.60h-3.60zM148.17 867.86h3.60v3.60h-3.60zM161.49 867.86h23.58v3.60h-23.58zM188.12 867.86h20.25v3.60h-20.25zM211.44 867.86h3.60v3.60h-3.60zM221.43 867.86h3.60v3.60h-3.60zM131.52 871.18h3.60v3.60h-3.60zM154.83 871.18h3.60v3.60h-3.60zM161.49 871.18h26.91v3.60h-26.91zM191.46 871.18h3.60v3.60h-3.60zM198.12 871.18h3.60v3.60h-3.60zM208.11 871.18h13.59v3.60h-13.59zM134.84 874.51h3.60v3.60h-3.60zM154.83 874.51h16.92v3.60h-16.92zM174.81 874.51h6.93v3.60h-6.93zM191.46 874.51h6.93v3.60h-6.93zM204.78 874.51h3.60v3.60h-3.60zM211.44 874.51h13.59v3.60h-13.59zM134.84 877.85h3.60v3.60h-3.60zM148.17 877.85h23.58v3.60h-23.58zM198.12 877.85h10.26v3.60h-10.26zM211.44 877.85h10.26v3.60h-10.26zM224.75 877.85h3.60v3.60h-3.60zM324.65 877.85h3.60v3.60h-3.60zM141.50 881.17h13.59v3.60h-13.59zM198.12 881.17h3.60v3.60h-3.60zM211.44 881.17h16.92v3.60h-16.92zM138.18 884.50h20.25v3.60h-20.25zM211.44 884.50h13.59v3.60h-13.59zM228.09 884.50h3.60v3.60h-3.60zM128.19 887.84h3.60v3.60h-3.60zM134.84 887.84h23.58v3.60h-23.58zM211.44 887.84h3.60v3.60h-3.60zM218.10 887.84h3.60v3.60h-3.60zM224.75 887.84h3.60v3.60h-3.60zM131.52 891.16h10.26v3.60h-10.26zM204.78 891.16h10.26v3.60h-10.26zM218.10 891.16h3.60v3.60h-3.60zM241.41 891.16h6.93v3.60h-6.93zM131.52 894.50h13.59v3.60h-13.59zM204.78 894.50h3.60v3.60h-3.60zM211.44 894.50h3.60v3.60h-3.60zM124.85 897.82h6.93v3.60h-6.93zM138.18 897.82h3.60v3.60h-3.60zM201.44 897.82h3.60v3.60h-3.60zM208.11 897.82h3.60v3.60h-3.60zM214.77 897.82h6.93v3.60h-6.93zM124.85 901.15h13.59v3.60h-13.59zM201.44 901.15h3.60v3.60h-3.60zM208.11 901.15h6.93v3.60h-6.93zM121.52 904.48h3.60v3.60h-3.60zM194.79 904.48h3.60v3.60h-3.60zM204.78 904.48h6.93v3.60h-6.93zM118.19 907.81h13.59v3.60h-13.59zM194.79 907.81h6.93v3.60h-6.93zM224.75 907.81h3.60v3.60h-3.60zM261.38 907.81h3.60v3.60h-3.60zM268.05 907.81h3.60v3.60h-3.60zM298.01 907.81h3.60v3.60h-3.60zM118.19 911.14h10.26v3.60h-10.26zM188.12 911.14h6.93v3.60h-6.93zM198.12 911.14h6.93v3.60h-6.93zM231.42 911.14h3.60v3.60h-3.60zM118.19 914.47h3.60v3.60h-3.60zM124.85 914.47h3.60v3.60h-3.60zM184.80 914.47h13.59v3.60h-13.59zM204.78 914.47h3.60v3.60h-3.60zM211.44 914.47h3.60v3.60h-3.60zM291.36 914.47h6.93v3.60h-6.93zM118.19 917.80h3.60v3.60h-3.60zM181.47 917.80h13.59v3.60h-13.59zM198.12 917.80h3.60v3.60h-3.60zM208.11 917.80h3.60v3.60h-3.60zM228.09 917.80h3.60v3.60h-3.60zM118.19 921.13h10.26v3.60h-10.26zM174.81 921.13h16.92v3.60h-16.92zM118.19 924.46h3.60v3.60h-3.60zM131.52 924.46h3.60v3.60h-3.60zM161.49 924.46h3.60v3.60h-3.60zM168.15 924.46h3.60v3.60h-3.60zM181.47 924.46h3.60v3.60h-3.60zM204.78 924.46h3.60v3.60h-3.60zM124.85 927.79h3.60v3.60h-3.60zM131.52 927.79h3.60v3.60h-3.60zM144.84 927.79h3.60v3.60h-3.60zM158.16 927.79h3.60v3.60h-3.60zM164.81 927.79h3.60v3.60h-3.60zM171.48 927.79h6.93v3.60h-6.93zM161.49 931.12h6.93v3.60h-6.93zM171.48 931.12h3.60v3.60h-3.60zM184.80 931.12h10.26v3.60h-10.26zM128.19 934.45h6.93v3.60h-6.93zM148.17 934.45h10.26v3.60h-10.26zM161.49 934.45h3.60v3.60h-3.60zM181.47 934.45h3.60v3.60h-3.60zM228.09 934.45h3.60v3.60h-3.60zM131.52 937.78h3.60v3.60h-3.60zM141.50 937.78h6.93v3.60h-6.93zM151.50 937.78h3.60v3.60h-3.60zM148.17 941.12h6.93v3.60h-6.93zM158.16 941.12h3.60v3.60h-3.60zM158.16 947.77h3.60v3.60h-3.60z"/>
<path fill="#36a8e0" d="M291.36 794.60h3.60v3.60h-3.60zM184.80 867.86h3.60v3.60h-3.60zM188.12 871.18h3.60v3.60h-3.60zM194.79 871.18h3.60v3.60h-3.60zM201.44 871.18h3.60v3.60h-3.60zM171.48 874.51h3.60v3.60h-3.60zM181.47 874.51h10.26v3.60h-10.26zM198.12 874.51h6.93v3.60h-6.93zM208.11 874.51h3.60v3.60h-3.60zM171.48 877.85h26.91v3.60h-26.91zM208.11 877.85h3.60v3.60h-3.60zM154.83 881.17h16.92v3.60h-16.92zM178.14 881.17h3.60v3.60h-3.60zM194.79 881.17h3.60v3.60h-3.60zM201.44 881.17h10.26v3.60h-10.26zM158.16 884.50h3.60v3.60h-3.60zM164.81 884.50h3.60v3.60h-3.60zM194.79 884.50h16.92v3.60h-16.92zM158.16 887.84h3.60v3.60h-3.60zM198.12 887.84h13.59v3.60h-13.59zM141.50 891.16h10.26v3.60h-10.26zM194.79 891.16h10.26v3.60h-10.26zM194.79 894.50h3.60v3.60h-3.60zM201.44 894.50h3.60v3.60h-3.60zM208.11 894.50h3.60v3.60h-3.60zM134.84 897.82h3.60v3.60h-3.60zM198.12 897.82h3.60v3.60h-3.60zM204.78 897.82h3.60v3.60h-3.60zM194.79 901.15h6.93v3.60h-6.93zM131.52 904.48h3.60v3.60h-3.60zM191.46 904.48h3.60v3.60h-3.60zM198.12 904.48h3.60v3.60h-3.60zM131.52 907.81h6.93v3.60h-6.93zM188.12 907.81h6.93v3.60h-6.93zM181.47 911.14h3.60v3.60h-3.60zM194.79 911.14h3.60v3.60h-3.60zM121.52 914.47h3.60v3.60h-3.60zM178.14 914.47h3.60v3.60h-3.60zM121.52 917.80h6.93v3.60h-6.93zM178.14 917.80h3.60v3.60h-3.60zM161.49 921.13h3.60v3.60h-3.60zM171.48 921.13h3.60v3.60h-3.60zM124.85 924.46h6.93v3.60h-6.93zM134.84 924.46h3.60v3.60h-3.60zM158.16 924.46h3.60v3.60h-3.60zM164.81 924.46h3.60v3.60h-3.60zM151.50 927.79h3.60v3.60h-3.60zM134.84 931.12h6.93v3.60h-6.93zM144.84 931.12h3.60v3.60h-3.60zM151.50 931.12h3.60v3.60h-3.60z"/>
<path fill="#6bbfa5" d="M171.48 881.17h6.93v3.60h-6.93zM181.47 881.17h13.59v3.60h-13.59zM161.49 884.50h3.60v3.60h-3.60zM168.15 884.50h6.93v3.60h-6.93zM178.14 884.50h6.93v3.60h-6.93zM188.12 884.50h6.93v3.60h-6.93zM161.49 887.84h3.60v3.60h-3.60zM181.47 887.84h3.60v3.60h-3.60zM191.46 887.84h6.93v3.60h-6.93zM154.83 891.16h6.93v3.60h-6.93zM191.46 891.16h3.60v3.60h-3.60zM144.84 894.50h6.93v3.60h-6.93zM191.46 894.50h3.60v3.60h-3.60zM198.12 894.50h3.60v3.60h-3.60zM141.50 897.82h6.93v3.60h-6.93zM194.79 897.82h3.60v3.60h-3.60zM138.18 904.48h6.93v3.60h-6.93zM184.80 904.48h6.93v3.60h-6.93zM181.47 907.81h6.93v3.60h-6.93zM128.19 911.14h3.60v3.60h-3.60zM184.80 911.14h3.60v3.60h-3.60zM128.19 914.47h3.60v3.60h-3.60zM134.84 914.47h3.60v3.60h-3.60zM181.47 914.47h3.60v3.60h-3.60zM128.19 917.80h3.60v3.60h-3.60zM174.81 917.80h3.60v3.60h-3.60zM131.52 921.13h3.60v3.60h-3.60zM164.81 921.13h6.93v3.60h-6.93zM138.18 924.46h3.60v3.60h-3.60zM144.84 924.46h3.60v3.60h-3.60zM128.19 927.79h3.60v3.60h-3.60zM134.84 927.79h6.93v3.60h-6.93zM148.17 927.79h3.60v3.60h-3.60zM154.83 927.79h3.60v3.60h-3.60zM141.50 931.12h3.60v3.60h-3.60zM148.17 931.12h3.60v3.60h-3.60z"/>
<path fill="#7dc243" d="M174.81 884.50h3.60v3.60h-3.60zM184.80 884.50h3.60v3.60h-3.60zM164.81 887.84h16.92v3.60h-16.92zM184.80 887.84h6.93v3.60h-6.93zM151.50 891.16h3.60v3.60h-3.60zM161.49 891.16h30.24v3.60h-30.24zM151.50 894.50h40.23v3.60h-40.23zM148.17 897.82h46.89v3.60h-46.89zM138.18 901.15h13.59v3.60h-13.59zM164.81 901.15h30.24v3.60h-30.24zM134.84 904.48h3.60v3.60h-3.60zM171.48 904.48h13.59v3.60h-13.59zM138.18 907.81h3.60v3.60h-3.60zM171.48 907.81h10.26v3.60h-10.26zM131.52 911.14h10.26v3.60h-10.26zM171.48 911.14h10.26v3.60h-10.26zM131.52 914.47h3.60v3.60h-3.60zM168.15 914.47h10.26v3.60h-10.26zM131.52 917.80h10.26v3.60h-10.26zM161.49 917.80h3.60v3.60h-3.60zM168.15 917.80h6.93v3.60h-6.93zM128.19 921.13h3.60v3.60h-3.60zM134.84 921.13h10.26v3.60h-10.26zM151.50 921.13h3.60v3.60h-3.60zM141.50 924.46h3.60v3.60h-3.60zM148.17 924.46h10.26v3.60h-10.26zM141.50 927.79h3.60v3.60h-3.60z"/>
<path fill="#b3d236" d="M151.50 901.15h13.59v3.60h-13.59zM154.83 904.48h16.92v3.60h-16.92zM161.49 907.81h10.26v3.60h-10.26zM161.49 911.14h10.26v3.60h-10.26zM161.49 914.47h6.93v3.60h-6.93zM164.81 917.80h3.60v3.60h-3.60zM158.16 921.13h3.60v3.60h-3.60z"/>
<path fill="#f2e31b" d="M154.83 907.81h6.93v3.60h-6.93zM158.16 911.14h3.60v3.60h-3.60zM158.16 914.47h3.60v3.60h-3.60zM154.83 917.80h6.93v3.60h-6.93zM154.83 921.13h3.60v3.60h-3.60z"/>
<path fill="#f7931e" d="M151.50 904.48h3.60v3.60h-3.60zM154.83 911.14h3.60v3.60h-3.60zM138.18 914.47h3.60v3.60h-3.60zM154.83 914.47h3.60v3.60h-3.60zM148.17 921.13h3.60v3.60h-3.60z"/>
<path fill="#e5231d" d="M144.84 904.48h6.93v3.60h-6.93zM141.50 907.81h13.59v3.60h-13.59zM141.50 911.14h13.59v3.60h-13.59zM141.50 914.47h13.59v3.60h-13.59zM141.50 917.80h13.59v3.60h-13.59zM144.84 921.13h3.60v3.60h-3.60z"/>
<ellipse cx="296.5" cy="790.0" rx="73" ry="37.4" fill="none" stroke="#000" stroke-width="2" transform="rotate(-44.5 296.5 790.0)"/>
<line x1="120.4" y1="976.7" x2="120.4" y2="983.7" stroke="#000" stroke-width="2"/>
<line x1="142.2" y1="976.7" x2="142.2" y2="983.7" stroke="#000" stroke-width="2"/>
<line x1="165.6" y1="976.7" x2="165.6" y2="983.7" stroke="#000" stroke-width="2"/>
<line x1="226.3" y1="976.7" x2="226.3" y2="983.7" stroke="#000" stroke-width="2"/>
<line x1="285.0" y1="976.7" x2="285.0" y2="983.7" stroke="#000" stroke-width="2"/>
<line x1="343.3" y1="976.7" x2="343.3" y2="983.7" stroke="#000" stroke-width="2"/>
<line x1="183.9" y1="976.7" x2="183.9" y2="980.5" stroke="#000" stroke-width="1.3"/>
<line x1="194.6" y1="976.7" x2="194.6" y2="980.5" stroke="#000" stroke-width="1.3"/>
<line x1="202.1" y1="976.7" x2="202.1" y2="980.5" stroke="#000" stroke-width="1.3"/>
<line x1="208.0" y1="976.7" x2="208.0" y2="980.5" stroke="#000" stroke-width="1.3"/>
<line x1="212.8" y1="976.7" x2="212.8" y2="980.5" stroke="#000" stroke-width="1.3"/>
<line x1="216.9" y1="976.7" x2="216.9" y2="980.5" stroke="#000" stroke-width="1.3"/>
<line x1="220.4" y1="976.7" x2="220.4" y2="980.5" stroke="#000" stroke-width="1.3"/>
<line x1="223.5" y1="976.7" x2="223.5" y2="980.5" stroke="#000" stroke-width="1.3"/>
<line x1="244.0" y1="976.7" x2="244.0" y2="980.5" stroke="#000" stroke-width="1.3"/>
<line x1="254.3" y1="976.7" x2="254.3" y2="980.5" stroke="#000" stroke-width="1.3"/>
<line x1="261.6" y1="976.7" x2="261.6" y2="980.5" stroke="#000" stroke-width="1.3"/>
<line x1="267.3" y1="976.7" x2="267.3" y2="980.5" stroke="#000" stroke-width="1.3"/>
<line x1="272.0" y1="976.7" x2="272.0" y2="980.5" stroke="#000" stroke-width="1.3"/>
<line x1="275.9" y1="976.7" x2="275.9" y2="980.5" stroke="#000" stroke-width="1.3"/>
<line x1="279.3" y1="976.7" x2="279.3" y2="980.5" stroke="#000" stroke-width="1.3"/>
<line x1="282.3" y1="976.7" x2="282.3" y2="980.5" stroke="#000" stroke-width="1.3"/>
<line x1="302.6" y1="976.7" x2="302.6" y2="980.5" stroke="#000" stroke-width="1.3"/>
<line x1="312.8" y1="976.7" x2="312.8" y2="980.5" stroke="#000" stroke-width="1.3"/>
<line x1="320.1" y1="976.7" x2="320.1" y2="980.5" stroke="#000" stroke-width="1.3"/>
<line x1="325.7" y1="976.7" x2="325.7" y2="980.5" stroke="#000" stroke-width="1.3"/>
<line x1="330.4" y1="976.7" x2="330.4" y2="980.5" stroke="#000" stroke-width="1.3"/>
<line x1="334.3" y1="976.7" x2="334.3" y2="980.5" stroke="#000" stroke-width="1.3"/>
<line x1="337.7" y1="976.7" x2="337.7" y2="980.5" stroke="#000" stroke-width="1.3"/>
<line x1="340.6" y1="976.7" x2="340.6" y2="980.5" stroke="#000" stroke-width="1.3"/>
<line x1="360.9" y1="976.7" x2="360.9" y2="980.5" stroke="#000" stroke-width="1.3"/>
<line x1="124" y1="976.7" x2="124" y2="980.5" stroke="#000" stroke-width="1.3"/>
<line x1="127" y1="976.7" x2="127" y2="980.5" stroke="#000" stroke-width="1.3"/>
<line x1="130" y1="976.7" x2="130" y2="980.5" stroke="#000" stroke-width="1.3"/>
<line x1="133" y1="976.7" x2="133" y2="980.5" stroke="#000" stroke-width="1.3"/>
<line x1="136" y1="976.7" x2="136" y2="980.5" stroke="#000" stroke-width="1.3"/>
<line x1="148" y1="976.7" x2="148" y2="980.5" stroke="#000" stroke-width="1.3"/>
<line x1="151" y1="976.7" x2="151" y2="980.5" stroke="#000" stroke-width="1.3"/>
<line x1="154" y1="976.7" x2="154" y2="980.5" stroke="#000" stroke-width="1.3"/>
<line x1="157" y1="976.7" x2="157" y2="980.5" stroke="#000" stroke-width="1.3"/>
<line x1="160" y1="976.7" x2="160" y2="980.5" stroke="#000" stroke-width="1.3"/>
<rect x="139.2" y="976.7" width="7" height="7" fill="#000"/>
<line x1="107.1" y1="747.60" x2="114.6" y2="747.60" stroke="#000" stroke-width="2"/>
<line x1="107.1" y1="808.30" x2="114.6" y2="808.30" stroke="#000" stroke-width="2"/>
<line x1="107.1" y1="877.50" x2="114.6" y2="877.50" stroke="#000" stroke-width="2"/>
<line x1="107.1" y1="960.30" x2="114.6" y2="960.30" stroke="#000" stroke-width="2"/>
<line x1="111.0" y1="790.03" x2="114.6" y2="790.03" stroke="#000" stroke-width="1.3"/>
<line x1="111.0" y1="779.34" x2="114.6" y2="779.34" stroke="#000" stroke-width="1.3"/>
<line x1="111.0" y1="771.75" x2="114.6" y2="771.75" stroke="#000" stroke-width="1.3"/>
<line x1="109.1" y1="765.87" x2="114.6" y2="765.87" stroke="#000" stroke-width="1.3"/>
<line x1="111.0" y1="761.07" x2="114.6" y2="761.07" stroke="#000" stroke-width="1.3"/>
<line x1="111.0" y1="757.00" x2="114.6" y2="757.00" stroke="#000" stroke-width="1.3"/>
<line x1="111.0" y1="753.48" x2="114.6" y2="753.48" stroke="#000" stroke-width="1.3"/>
<line x1="111.0" y1="750.38" x2="114.6" y2="750.38" stroke="#000" stroke-width="1.3"/>
<line x1="111.0" y1="856.67" x2="114.6" y2="856.67" stroke="#000" stroke-width="1.3"/>
<line x1="111.0" y1="844.48" x2="114.6" y2="844.48" stroke="#000" stroke-width="1.3"/>
<line x1="111.0" y1="835.84" x2="114.6" y2="835.84" stroke="#000" stroke-width="1.3"/>
<line x1="109.1" y1="829.13" x2="114.6" y2="829.13" stroke="#000" stroke-width="1.3"/>
<line x1="111.0" y1="823.65" x2="114.6" y2="823.65" stroke="#000" stroke-width="1.3"/>
<line x1="111.0" y1="819.02" x2="114.6" y2="819.02" stroke="#000" stroke-width="1.3"/>
<line x1="111.0" y1="815.01" x2="114.6" y2="815.01" stroke="#000" stroke-width="1.3"/>
<line x1="111.0" y1="811.47" x2="114.6" y2="811.47" stroke="#000" stroke-width="1.3"/>
<line x1="110.8" y1="729.33" x2="114.6" y2="729.33" stroke="#000" stroke-width="1.3"/>
<line x1="111.0" y1="882.20" x2="114.6" y2="882.20" stroke="#000" stroke-width="1.3"/>
<line x1="111.0" y1="886.90" x2="114.6" y2="886.90" stroke="#000" stroke-width="1.3"/>
<line x1="111.0" y1="891.60" x2="114.6" y2="891.60" stroke="#000" stroke-width="1.3"/>
<line x1="109.1" y1="896.30" x2="114.6" y2="896.30" stroke="#000" stroke-width="1.3"/>
<line x1="111.0" y1="901.00" x2="114.6" y2="901.00" stroke="#000" stroke-width="1.3"/>
<line x1="111.0" y1="905.70" x2="114.6" y2="905.70" stroke="#000" stroke-width="1.3"/>
<line x1="111.0" y1="910.40" x2="114.6" y2="910.40" stroke="#000" stroke-width="1.3"/>
<line x1="111.0" y1="955.60" x2="114.6" y2="955.60" stroke="#000" stroke-width="1.3"/>
<line x1="111.0" y1="950.90" x2="114.6" y2="950.90" stroke="#000" stroke-width="1.3"/>
<line x1="111.0" y1="946.20" x2="114.6" y2="946.20" stroke="#000" stroke-width="1.3"/>
<line x1="109.1" y1="941.50" x2="114.6" y2="941.50" stroke="#000" stroke-width="1.3"/>
<line x1="111.0" y1="936.80" x2="114.6" y2="936.80" stroke="#000" stroke-width="1.3"/>
<line x1="111.0" y1="932.10" x2="114.6" y2="932.10" stroke="#000" stroke-width="1.3"/>
<line x1="111.0" y1="927.40" x2="114.6" y2="927.40" stroke="#000" stroke-width="1.3"/>
<rect x="109.1" y="912.80" width="5.5" height="12.00" fill="#000"/>
<rect x="107.1" y="914.80" width="2" height="3" fill="#000"/><rect x="107.1" y="918.80" width="2" height="5" fill="#000"/>
<line x1="35.6" y1="458" x2="35.6" y2="967" stroke="#231815" stroke-width="2.1"/>
<path d="M35.6,444 L45.3,466.8 L35.6,461.5 L25.9,466.8 Z" fill="#231815"/>
<text x="492.75" y="80.27" font-size="26" font-weight="400">14%</text>
<text x="442.75" y="152.57" font-size="26" font-weight="400">14%</text>
<text x="454.15" y="229.90" font-size="26" font-weight="400">12%</text>
<text x="547.40" y="172.90" font-size="26" font-weight="400">69</text>
<text x="824.85" y="84.37" font-size="26" font-weight="400">14%</text>
<text x="774.95" y="145.30" font-size="26" font-weight="400">12%</text>
<text x="950.05" y="221.67" font-size="26" font-weight="400">14%</text>
<text x="879.40" y="172.90" font-size="26" font-weight="400">69</text>
<text x="460.56" y="478.40" font-size="26" font-weight="400">33%</text>
<text x="546.10" y="522.80" font-size="26" font-weight="400">21</text>
<text x="791.96" y="480.40" font-size="26" font-weight="400">33%</text>
<text x="879.90" y="524.90" font-size="26" font-weight="400">21</text>
<text x="522.66" y="758.57" font-size="26" font-weight="400">5%</text>
<text x="544.60" y="875.50" font-size="26" font-weight="400">78</text>
<text x="854.46" y="761.37" font-size="26" font-weight="400">5%</text>
<text x="879.40" y="876.60" font-size="26" font-weight="400">78</text>
<text transform="translate(3.79,23.95) scale(1.03,1)" font-size="33" font-weight="700" stroke="#000" stroke-width="0.8">a</text>
<text transform="translate(397.30,23.37) scale(1.09,1)" font-size="33" font-weight="700" stroke="#000" stroke-width="0.8">b</text>
<text transform="translate(708.94,23.66) scale(1.15,1)" font-size="33" font-weight="700" stroke="#000" stroke-width="0.8">c</text>
<text x="445.34" y="21.18" font-size="29.6" font-weight="400">IgH</text>
<text x="424.34" y="374.48" font-size="29.6" font-weight="400">IgH</text>
<text x="424.34" y="727.98" font-size="29.6" font-weight="400">IgH</text>
<text x="768.04" y="23.78" font-size="29.6" font-weight="400">IgK</text>
<text x="972.04" y="23.78" font-size="29.6" font-weight="400">IgL</text>
<text x="763.84" y="372.68" font-size="29.6" font-weight="400">IgK</text>
<text x="974.44" y="372.88" font-size="29.6" font-weight="400">IgL</text>
<text x="760.74" y="724.68" font-size="29.6" font-weight="400">IgK</text>
<text x="971.54" y="724.68" font-size="29.6" font-weight="400">IgL</text>
<text x="261.50" y="136.70" font-size="30" font-weight="400">0.64%</text>
<text x="118.76" y="29.44" font-size="29.2" font-weight="400">P2C</text>
<text x="54.32" y="60.55" font-size="29.5" font-weight="400">250</text>
<text x="54.32" y="107.65" font-size="29.5" font-weight="400">200</text>
<text x="54.32" y="156.55" font-size="29.5" font-weight="400">150</text>
<text x="54.32" y="205.05" font-size="29.5" font-weight="400">100</text>
<text x="70.69" y="252.45" font-size="29.5" font-weight="400">50</text>
<text x="87.21" y="306.35" font-size="29.5" font-weight="400">0</text>
<text x="143.92" y="334.95" font-size="29.5" font-weight="400">0</text>
<text x="199.39" y="334.95" font-size="29.5" font-weight="400">10</text>
<text x="230.92" y="324.35" font-size="19.5" font-weight="400">3</text>
<text x="257.99" y="334.95" font-size="29.5" font-weight="400">10</text>
<text x="289.81" y="324.06" font-size="19.5" font-weight="400">4</text>
<text x="315.29" y="334.95" font-size="29.5" font-weight="400">10</text>
<text x="346.82" y="324.06" font-size="19.5" font-weight="400">5</text>
<text transform="translate(29.00,253.33) rotate(-90)" font-size="29.5" font-weight="400">SSC-A (×10</text>
<text transform="translate(17.90,98.28) rotate(-90)" font-size="19.5" font-weight="400">3</text>
<text transform="translate(29.00,86.80) rotate(-90)" font-size="29.5" font-weight="400">)</text>
<text x="276.30" y="483.20" font-size="30" font-weight="400">0.13%</text>
<text x="118.76" y="375.00" font-size="29.2" font-weight="400">P4B</text>
<text x="150.82" y="678.25" font-size="29.5" font-weight="400">0</text>
<text x="207.99" y="678.25" font-size="29.5" font-weight="400">10</text>
<text x="239.52" y="667.65" font-size="19.5" font-weight="400">3</text>
<text x="267.09" y="678.25" font-size="29.5" font-weight="400">10</text>
<text x="298.91" y="667.36" font-size="19.5" font-weight="400">4</text>
<text x="324.29" y="678.25" font-size="29.5" font-weight="400">10</text>
<text x="355.82" y="667.36" font-size="19.5" font-weight="400">5</text>
<text x="54.99" y="423.85" font-size="29.5" font-weight="400">10</text>
<text x="88.56" y="412.86" font-size="19.5" font-weight="400">5</text>
<text x="54.99" y="483.95" font-size="29.5" font-weight="400">10</text>
<text x="88.36" y="472.96" font-size="19.5" font-weight="400">4</text>
<text x="54.99" y="553.05" font-size="29.5" font-weight="400">10</text>
<text x="88.66" y="542.35" font-size="19.5" font-weight="400">3</text>
<text x="83.21" y="587.75" font-size="29.5" font-weight="400">0</text>
<text x="37.88" y="635.95" font-size="29.5" font-weight="400">−10</text>
<text x="88.46" y="625.65" font-size="19.5" font-weight="400">3</text>
<text x="192.35" y="758.00" font-size="30" font-weight="400">1.86%</text>
<text x="116.66" y="713.20" font-size="29.2" font-weight="400">P5A</text>
<text x="143.02" y="1015.85" font-size="29.5" font-weight="400">0</text>
<text x="207.69" y="1015.85" font-size="29.5" font-weight="400">10</text>
<text x="239.22" y="1005.25" font-size="19.5" font-weight="400">3</text>
<text x="266.79" y="1015.85" font-size="29.5" font-weight="400">10</text>
<text x="298.61" y="1004.96" font-size="19.5" font-weight="400">4</text>
<text x="324.19" y="1015.85" font-size="29.5" font-weight="400">10</text>
<text x="355.72" y="1004.96" font-size="19.5" font-weight="400">5</text>
<text x="54.99" y="761.15" font-size="29.5" font-weight="400">10</text>
<text x="88.56" y="750.16" font-size="19.5" font-weight="400">5</text>
<text x="54.99" y="821.25" font-size="29.5" font-weight="400">10</text>
<text x="88.36" y="810.26" font-size="19.5" font-weight="400">4</text>
<text x="54.99" y="890.35" font-size="29.5" font-weight="400">10</text>
<text x="88.66" y="879.65" font-size="19.5" font-weight="400">3</text>
<text x="83.21" y="925.05" font-size="29.5" font-weight="400">0</text>
<text x="37.88" y="973.25" font-size="29.5" font-weight="400">−10</text>
<text x="88.46" y="962.95" font-size="19.5" font-weight="400">3</text>
<text x="81.83" y="1056.71" font-size="30.5" font-weight="400" letter-spacing="-1.0">SARS-CoV-2 RBD (APC)</text>
<text transform="translate(21.30,834.55) rotate(-90)" font-size="30.0" font-weight="400" letter-spacing="-0.8">SARS-CoV-2 RBD (PE)</text></svg></body></html>
